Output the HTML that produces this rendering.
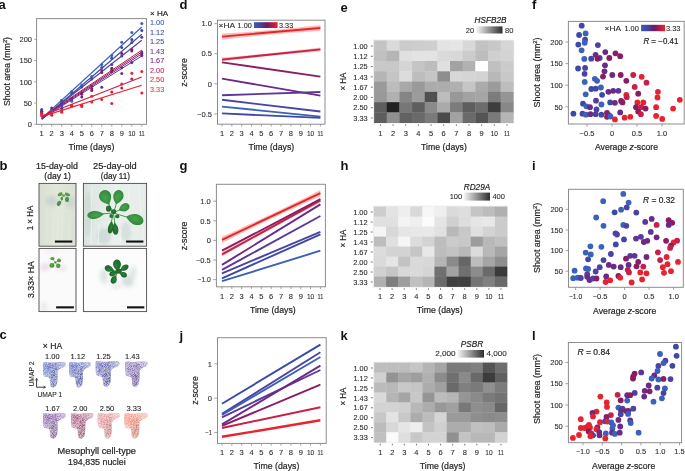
<!DOCTYPE html><html><head><meta charset="utf-8"><title>Figure</title><style>html,body{margin:0;padding:0;background:#fff;width:685px;height:471px;overflow:hidden}svg{display:block;will-change:transform;font-family:"Liberation Sans",sans-serif}</style></head><body><svg width="685" height="471" viewBox="0 0 685 471" font-family="Liberation Sans, sans-serif"><defs>
<linearGradient id="gHA" x1="0" x2="1" y1="0" y2="0">
<stop offset="0" stop-color="#3a5cb6"/><stop offset="0.3" stop-color="#4a3f9e"/>
<stop offset="0.55" stop-color="#6a1a66"/><stop offset="0.78" stop-color="#b81a44"/><stop offset="1" stop-color="#ea2030"/></linearGradient>
<linearGradient id="gGray" x1="0" x2="1" y1="0" y2="0">
<stop offset="0" stop-color="#f8f8f8"/><stop offset="1" stop-color="#2e2e2e"/></linearGradient>

<filter id="fSpeck" x="-10%" y="-10%" width="120%" height="120%">
 <feTurbulence type="fractalNoise" baseFrequency="1.5" numOctaves="2" seed="7" result="n"/>
 <feColorMatrix in="n" type="matrix" values="0 0 0 0 1  0 0 0 0 1  0 0 0 0 1  1.3 0 0 0 -0.42" result="w"/>
 <feComposite in="w" in2="SourceGraphic" operator="in" result="wm"/>
 <feMerge result="m"><feMergeNode in="SourceGraphic"/><feMergeNode in="wm"/></feMerge>
 <feGaussianBlur in="m" stdDeviation="0.45"/>
</filter>
<filter id="fBlurU" x="-50%" y="-50%" width="200%" height="200%"><feGaussianBlur stdDeviation="2.4"/></filter>
<linearGradient id="gUm" x1="0" y1="0" x2="1" y2="0">
 <stop offset="0" stop-color="#fff" stop-opacity="0"/><stop offset="0.6" stop-color="#fff" stop-opacity="0"/><stop offset="1" stop-color="#fff" stop-opacity="0.35"/></linearGradient>
<filter id="fBlur06"><feGaussianBlur stdDeviation="0.45"/></filter>
<filter id="fBlur1"><feGaussianBlur stdDeviation="1.2"/></filter>
<filter id="fBlur2"><feGaussianBlur stdDeviation="2.2"/></filter>
<linearGradient id="gP1" x1="0" y1="0" x2="1" y2="0">
 <stop offset="0" stop-color="#d9dfd0"/><stop offset="0.5" stop-color="#e2e7db"/><stop offset="1" stop-color="#dbe1d5"/></linearGradient>
<linearGradient id="gP2" x1="0" y1="0" x2="1" y2="0">
 <stop offset="0" stop-color="#dae4df"/><stop offset="0.5" stop-color="#eaf0ed"/><stop offset="1" stop-color="#e6ece9"/></linearGradient>
<radialGradient id="gLeaf" cx="0.5" cy="0.45" r="0.65">
 <stop offset="0" stop-color="#4aa24e"/><stop offset="0.75" stop-color="#338c3d"/><stop offset="1" stop-color="#257632"/></radialGradient>
<radialGradient id="gLeafL" cx="0.45" cy="0.4" r="0.7">
 <stop offset="0" stop-color="#64a848"/><stop offset="1" stop-color="#3d8a36"/></radialGradient>
<radialGradient id="gLeafD" cx="0.45" cy="0.4" r="0.7">
 <stop offset="0" stop-color="#2a823a"/><stop offset="1" stop-color="#185e27"/></radialGradient>
</defs><text x="-1.5" y="9.3" font-size="13" font-weight="bold" fill="#111">a</text>
<rect x="36.60" y="18.60" width="109.90" height="105.70" fill="none" stroke="#8c8c8c" stroke-width="1.0" />
<line x1="34.30" y1="124.30" x2="36.60" y2="124.30" stroke="#8c8c8c" stroke-width="0.8" />
<text x="32.00" y="127.00" font-size="7.5" fill="#2c2c2c" text-anchor="end" stroke="#2c2c2c" stroke-width="0.1">0</text>
<line x1="34.30" y1="103.05" x2="36.60" y2="103.05" stroke="#8c8c8c" stroke-width="0.8" />
<text x="32.00" y="105.75" font-size="7.5" fill="#2c2c2c" text-anchor="end" stroke="#2c2c2c" stroke-width="0.1">50</text>
<line x1="34.30" y1="81.80" x2="36.60" y2="81.80" stroke="#8c8c8c" stroke-width="0.8" />
<text x="32.00" y="84.50" font-size="7.5" fill="#2c2c2c" text-anchor="end" stroke="#2c2c2c" stroke-width="0.1">100</text>
<line x1="34.30" y1="60.55" x2="36.60" y2="60.55" stroke="#8c8c8c" stroke-width="0.8" />
<text x="32.00" y="63.25" font-size="7.5" fill="#2c2c2c" text-anchor="end" stroke="#2c2c2c" stroke-width="0.1">150</text>
<line x1="34.30" y1="39.30" x2="36.60" y2="39.30" stroke="#8c8c8c" stroke-width="0.8" />
<text x="32.00" y="42.00" font-size="7.5" fill="#2c2c2c" text-anchor="end" stroke="#2c2c2c" stroke-width="0.1">200</text>
<line x1="41.70" y1="124.30" x2="41.70" y2="126.60" stroke="#8c8c8c" stroke-width="0.8" />
<text x="41.70" y="136.10" font-size="7.5" fill="#2c2c2c" text-anchor="middle" stroke="#2c2c2c" stroke-width="0.1">1</text>
<line x1="51.71" y1="124.30" x2="51.71" y2="126.60" stroke="#8c8c8c" stroke-width="0.8" />
<text x="51.71" y="136.10" font-size="7.5" fill="#2c2c2c" text-anchor="middle" stroke="#2c2c2c" stroke-width="0.1">2</text>
<line x1="61.72" y1="124.30" x2="61.72" y2="126.60" stroke="#8c8c8c" stroke-width="0.8" />
<text x="61.72" y="136.10" font-size="7.5" fill="#2c2c2c" text-anchor="middle" stroke="#2c2c2c" stroke-width="0.1">3</text>
<line x1="71.73" y1="124.30" x2="71.73" y2="126.60" stroke="#8c8c8c" stroke-width="0.8" />
<text x="71.73" y="136.10" font-size="7.5" fill="#2c2c2c" text-anchor="middle" stroke="#2c2c2c" stroke-width="0.1">4</text>
<line x1="81.74" y1="124.30" x2="81.74" y2="126.60" stroke="#8c8c8c" stroke-width="0.8" />
<text x="81.74" y="136.10" font-size="7.5" fill="#2c2c2c" text-anchor="middle" stroke="#2c2c2c" stroke-width="0.1">5</text>
<line x1="91.75" y1="124.30" x2="91.75" y2="126.60" stroke="#8c8c8c" stroke-width="0.8" />
<text x="91.75" y="136.10" font-size="7.5" fill="#2c2c2c" text-anchor="middle" stroke="#2c2c2c" stroke-width="0.1">6</text>
<line x1="101.76" y1="124.30" x2="101.76" y2="126.60" stroke="#8c8c8c" stroke-width="0.8" />
<text x="101.76" y="136.10" font-size="7.5" fill="#2c2c2c" text-anchor="middle" stroke="#2c2c2c" stroke-width="0.1">7</text>
<line x1="111.77" y1="124.30" x2="111.77" y2="126.60" stroke="#8c8c8c" stroke-width="0.8" />
<text x="111.77" y="136.10" font-size="7.5" fill="#2c2c2c" text-anchor="middle" stroke="#2c2c2c" stroke-width="0.1">8</text>
<line x1="121.78" y1="124.30" x2="121.78" y2="126.60" stroke="#8c8c8c" stroke-width="0.8" />
<text x="121.78" y="136.10" font-size="7.5" fill="#2c2c2c" text-anchor="middle" stroke="#2c2c2c" stroke-width="0.1">9</text>
<line x1="131.79" y1="124.30" x2="131.79" y2="126.60" stroke="#8c8c8c" stroke-width="0.8" />
<text x="131.79" y="136.10" font-size="7.5" fill="#2c2c2c" text-anchor="middle" textLength="7.30" lengthAdjust="spacingAndGlyphs" stroke="#2c2c2c" stroke-width="0.1">10</text>
<line x1="141.80" y1="124.30" x2="141.80" y2="126.60" stroke="#8c8c8c" stroke-width="0.8" />
<text x="141.80" y="136.10" font-size="7.5" fill="#2c2c2c" text-anchor="middle" textLength="5.80" lengthAdjust="spacingAndGlyphs" stroke="#2c2c2c" stroke-width="0.1">11</text>
<text x="91.50" y="149.69" font-size="8.3" fill="#262626" text-anchor="middle" textLength="45.80" lengthAdjust="spacingAndGlyphs" stroke="#262626" stroke-width="0.2">Time (days)</text>
<text transform="translate(9.6 71.5) rotate(-90)" font-size="8.3" fill="#262626" text-anchor="middle" textLength="69" lengthAdjust="spacingAndGlyphs" stroke="#262626" stroke-width="0.2">Shoot area (mm<tspan font-size="5.4" dy="-2.9">2</tspan><tspan dy="2.9">)</tspan></text>
<text x="150.00" y="16.08" font-size="8.0" fill="#262626" textLength="18.10" lengthAdjust="spacingAndGlyphs" stroke="#262626" stroke-width="0.2">× HA</text>
<text x="150.00" y="25.34" font-size="7.6" fill="#3b5fb8" textLength="14.20" lengthAdjust="spacingAndGlyphs" stroke="#3b5fb8" stroke-width="0.1">1.00</text>
<text x="150.00" y="34.82" font-size="7.6" fill="#3c4aa6" textLength="14.20" lengthAdjust="spacingAndGlyphs" stroke="#3c4aa6" stroke-width="0.1">1.12</text>
<text x="150.00" y="44.30" font-size="7.6" fill="#4a48a6" textLength="14.20" lengthAdjust="spacingAndGlyphs" stroke="#4a48a6" stroke-width="0.1">1.25</text>
<text x="150.00" y="53.78" font-size="7.6" fill="#683c95" textLength="14.20" lengthAdjust="spacingAndGlyphs" stroke="#683c95" stroke-width="0.1">1.43</text>
<text x="150.00" y="63.26" font-size="7.6" fill="#762a7c" textLength="14.20" lengthAdjust="spacingAndGlyphs" stroke="#762a7c" stroke-width="0.1">1.67</text>
<text x="150.00" y="72.74" font-size="7.6" fill="#b02c6c" textLength="14.20" lengthAdjust="spacingAndGlyphs" stroke="#b02c6c" stroke-width="0.1">2.00</text>
<text x="150.00" y="82.22" font-size="7.6" fill="#e0304a" textLength="14.20" lengthAdjust="spacingAndGlyphs" stroke="#e0304a" stroke-width="0.1">2.50</text>
<text x="150.00" y="91.70" font-size="7.6" fill="#e8403c" textLength="14.20" lengthAdjust="spacingAndGlyphs" stroke="#e8403c" stroke-width="0.1">3.33</text>
<line x1="41.70" y1="118.50" x2="141.80" y2="27.00" stroke="#3a62ba" stroke-width="1.15" />
<line x1="41.70" y1="119.50" x2="141.80" y2="34.30" stroke="#3b4aa6" stroke-width="1.15" />
<line x1="41.70" y1="118.80" x2="141.80" y2="40.20" stroke="#4a43a3" stroke-width="1.15" />
<line x1="41.70" y1="117.20" x2="141.80" y2="50.20" stroke="#c81f48" stroke-width="1.0" />
<line x1="41.70" y1="117.60" x2="141.80" y2="52.00" stroke="#8a1c62" stroke-width="1.0" />
<line x1="41.70" y1="118.20" x2="141.80" y2="53.80" stroke="#6c2a86" stroke-width="1.0" />
<line x1="41.70" y1="118.60" x2="141.80" y2="56.00" stroke="#5b3797" stroke-width="1.0" />
<line x1="41.70" y1="116.00" x2="141.80" y2="77.00" stroke="#c81f48" stroke-width="1.15" />
<line x1="41.70" y1="116.60" x2="141.80" y2="85.20" stroke="#e8232f" stroke-width="1.15" />
<circle cx="41.70" cy="109.50" r="1.5" fill="#4a43a3"/>
<circle cx="41.70" cy="110.80" r="1.5" fill="#3a62ba"/>
<circle cx="41.70" cy="111.30" r="1.5" fill="#6c2a86"/>
<circle cx="41.70" cy="112.60" r="1.5" fill="#8a1c62"/>
<circle cx="41.70" cy="113.30" r="1.5" fill="#c81f48"/>
<circle cx="41.70" cy="114.60" r="1.5" fill="#e8232f"/>
<circle cx="41.70" cy="115.80" r="1.5" fill="#e8232f"/>
<circle cx="51.71" cy="107.90" r="1.5" fill="#8a1c62"/>
<circle cx="51.71" cy="109.80" r="1.5" fill="#6c2a86"/>
<circle cx="51.71" cy="110.60" r="1.5" fill="#3a62ba"/>
<circle cx="51.71" cy="113.80" r="1.5" fill="#e8232f"/>
<circle cx="51.71" cy="115.30" r="1.5" fill="#e8232f"/>
<circle cx="61.72" cy="100.30" r="1.5" fill="#3a62ba"/>
<circle cx="61.72" cy="101.80" r="1.5" fill="#3b4aa6"/>
<circle cx="61.72" cy="103.70" r="1.5" fill="#6c2a86"/>
<circle cx="61.72" cy="105.80" r="1.5" fill="#4a43a3"/>
<circle cx="61.72" cy="108.60" r="1.5" fill="#6c2a86"/>
<circle cx="61.72" cy="110.90" r="1.5" fill="#e8232f"/>
<circle cx="61.72" cy="112.20" r="1.5" fill="#e8232f"/>
<circle cx="71.73" cy="91.50" r="1.5" fill="#3a62ba"/>
<circle cx="71.73" cy="93.50" r="1.5" fill="#3b4aa6"/>
<circle cx="71.73" cy="98.40" r="1.5" fill="#8a1c62"/>
<circle cx="71.73" cy="100.00" r="1.5" fill="#6c2a86"/>
<circle cx="71.73" cy="101.30" r="1.5" fill="#3a62ba"/>
<circle cx="71.73" cy="105.30" r="1.5" fill="#e8232f"/>
<circle cx="71.73" cy="106.20" r="1.5" fill="#e8232f"/>
<circle cx="81.74" cy="85.10" r="1.5" fill="#3a62ba"/>
<circle cx="81.74" cy="87.00" r="1.5" fill="#3b4aa6"/>
<circle cx="81.74" cy="93.00" r="1.5" fill="#8a1c62"/>
<circle cx="81.74" cy="94.20" r="1.5" fill="#8a1c62"/>
<circle cx="81.74" cy="97.10" r="1.5" fill="#6c2a86"/>
<circle cx="81.74" cy="105.30" r="1.5" fill="#e8232f"/>
<circle cx="81.74" cy="106.40" r="1.5" fill="#e8232f"/>
<circle cx="91.75" cy="76.60" r="1.5" fill="#3a62ba"/>
<circle cx="91.75" cy="79.00" r="1.5" fill="#3b4aa6"/>
<circle cx="91.75" cy="86.20" r="1.5" fill="#6c2a86"/>
<circle cx="91.75" cy="88.80" r="1.5" fill="#8a1c62"/>
<circle cx="91.75" cy="90.40" r="1.5" fill="#8a1c62"/>
<circle cx="91.75" cy="96.20" r="1.5" fill="#e8232f"/>
<circle cx="91.75" cy="102.00" r="1.5" fill="#e8232f"/>
<circle cx="101.76" cy="64.60" r="1.5" fill="#3a62ba"/>
<circle cx="101.76" cy="67.50" r="1.5" fill="#3b4aa6"/>
<circle cx="101.76" cy="70.60" r="1.5" fill="#6c2a86"/>
<circle cx="101.76" cy="72.50" r="1.5" fill="#8a1c62"/>
<circle cx="101.76" cy="87.20" r="1.5" fill="#5b3797"/>
<circle cx="101.76" cy="99.40" r="1.5" fill="#e8232f"/>
<circle cx="111.77" cy="55.60" r="1.5" fill="#3a62ba"/>
<circle cx="111.77" cy="58.30" r="1.5" fill="#3b4aa6"/>
<circle cx="111.77" cy="64.50" r="1.5" fill="#4a43a3"/>
<circle cx="111.77" cy="68.20" r="1.5" fill="#6c2a86"/>
<circle cx="111.77" cy="69.70" r="1.5" fill="#8a1c62"/>
<circle cx="111.77" cy="71.60" r="1.5" fill="#8a1c62"/>
<circle cx="111.77" cy="103.50" r="1.5" fill="#e8232f"/>
<circle cx="111.77" cy="92.10" r="1.5" fill="#c81f48"/>
<circle cx="121.78" cy="42.20" r="1.5" fill="#3a62ba"/>
<circle cx="121.78" cy="47.40" r="1.5" fill="#3b4aa6"/>
<circle cx="121.78" cy="53.40" r="1.5" fill="#8a1c62"/>
<circle cx="121.78" cy="56.00" r="1.5" fill="#4a43a3"/>
<circle cx="121.78" cy="67.80" r="1.5" fill="#6c2a86"/>
<circle cx="121.78" cy="73.40" r="1.5" fill="#5b3797"/>
<circle cx="121.78" cy="84.00" r="1.5" fill="#e8232f"/>
<circle cx="121.78" cy="88.00" r="1.5" fill="#c81f48"/>
<circle cx="131.79" cy="32.40" r="1.5" fill="#3a62ba"/>
<circle cx="131.79" cy="39.60" r="1.5" fill="#3b4aa6"/>
<circle cx="131.79" cy="42.50" r="1.5" fill="#4a43a3"/>
<circle cx="131.79" cy="49.60" r="1.5" fill="#8a1c62"/>
<circle cx="131.79" cy="50.90" r="1.5" fill="#8a1c62"/>
<circle cx="131.79" cy="62.50" r="1.5" fill="#6c2a86"/>
<circle cx="131.79" cy="73.30" r="1.5" fill="#e8232f"/>
<circle cx="131.79" cy="79.00" r="1.5" fill="#c81f48"/>
<circle cx="141.80" cy="23.40" r="1.5" fill="#3a62ba"/>
<circle cx="141.80" cy="30.60" r="1.5" fill="#3b4aa6"/>
<circle cx="141.80" cy="37.30" r="1.5" fill="#4a43a3"/>
<circle cx="141.80" cy="51.90" r="1.5" fill="#5b3797"/>
<circle cx="141.80" cy="53.60" r="1.5" fill="#6c2a86"/>
<circle cx="141.80" cy="55.60" r="1.5" fill="#8a1c62"/>
<circle cx="141.80" cy="71.60" r="1.5" fill="#e8232f"/>
<circle cx="141.80" cy="93.00" r="1.5" fill="#e8232f"/>
<text x="-0.5" y="170.2" font-size="13" font-weight="bold" fill="#111">b</text>
<text x="57.00" y="168.95" font-size="8.2" fill="#262626" text-anchor="middle" textLength="41.80" lengthAdjust="spacingAndGlyphs" stroke="#262626" stroke-width="0.2">15-day-old</text>
<text x="57.60" y="179.15" font-size="8.2" fill="#262626" text-anchor="middle" textLength="26.60" lengthAdjust="spacingAndGlyphs" stroke="#262626" stroke-width="0.2">(day 1)</text>
<text x="114.90" y="168.95" font-size="8.2" fill="#262626" text-anchor="middle" textLength="43.60" lengthAdjust="spacingAndGlyphs" stroke="#262626" stroke-width="0.2">25-day-old</text>
<text x="115.40" y="179.15" font-size="8.2" fill="#262626" text-anchor="middle" textLength="29.40" lengthAdjust="spacingAndGlyphs" stroke="#262626" stroke-width="0.2">(day 11)</text>
<text transform="translate(33.4 218.0) rotate(-90)" font-size="8.3" fill="#262626" text-anchor="middle" textLength="24.5" lengthAdjust="spacingAndGlyphs" stroke="#262626" stroke-width="0.2">1 × HA</text>
<text transform="translate(33.6 279.6) rotate(-90)" font-size="8.3" fill="#262626" text-anchor="middle" textLength="37" lengthAdjust="spacingAndGlyphs" stroke="#262626" stroke-width="0.2">3.33× HA</text>
<clipPath id="cp1"><rect x="39" y="183.4" width="37" height="62.8"/></clipPath>
<g clip-path="url(#cp1)">
<rect x="39.00" y="183.40" width="37.00" height="62.80" fill="url(#gP1)" />
<g filter="url(#fBlur2)" opacity="0.55"><ellipse cx="52" cy="201" rx="6" ry="5" fill="#b8c4c8"/><ellipse cx="71" cy="202" rx="5" ry="6" fill="#c0cbcb"/></g>
<g filter="url(#fBlur06)" opacity="0.35" stroke="#f2f4ee" stroke-width="0.9" fill="none"><path d="M47 208 L46 246"/><path d="M54 212 L53 246"/><path d="M63 206 L61 246"/><path d="M70 214 L69 246"/><path d="M58 222 L57 246"/></g>
<g filter="url(#fBlur06)"><path d="M63.2 195.8 Q62.4 199 61.0 202.2" stroke="#b8cc70" stroke-width="0.9" fill="none"/><ellipse cx="60.2" cy="194.3" rx="2.6" ry="1.7" fill="url(#gLeafL)" transform="rotate(-25 60.2 194.3)"/><ellipse cx="67.4" cy="194.4" rx="2.7" ry="1.6" fill="url(#gLeafL)" transform="rotate(20 67.4 194.4)"/><ellipse cx="67.0" cy="199.4" rx="2.0" ry="2.6" fill="url(#gLeaf)"/><ellipse cx="61.8" cy="198.6" rx="1.2" ry="1.8" fill="url(#gLeaf)"/><ellipse cx="59.0" cy="203.3" rx="1.9" ry="2.7" fill="url(#gLeaf)" transform="rotate(30 59 203.3)"/><ellipse cx="63.7" cy="195.6" rx="1.6" ry="1.2" fill="#5aa040"/></g>
</g>
<rect x="39.00" y="183.40" width="37.00" height="62.80" fill="none" stroke="#4a4a4a" stroke-width="0.9" />
<rect x="54.90" y="240.50" width="17.40" height="2.10" fill="#111" />
<clipPath id="cp2"><rect x="83.4" y="183.4" width="63.2" height="62.8"/></clipPath>
<g clip-path="url(#cp2)">
<rect x="83.40" y="183.40" width="63.20" height="62.80" fill="url(#gP2)" />
<g filter="url(#fBlur1)" opacity="0.7"><ellipse cx="88" cy="214" rx="4" ry="22" fill="#cbd8d2"/><ellipse cx="104" cy="236" rx="7" ry="8" fill="#c9d6d2"/><ellipse cx="126" cy="232" rx="5" ry="10" fill="#d0dbd7"/></g>
<g filter="url(#fBlur06)" opacity="0.8" stroke="#f3f6f4" stroke-width="0.9" fill="none"><path d="M92 186 L91 246"/><path d="M99 224 L98 246"/><path d="M128 186 L129 210"/><path d="M139 186 L141 215"/><path d="M121 230 L120 246"/><path d="M143 224 L143 246"/></g>
<g stroke="#4c9a44" stroke-width="1.0" fill="none" filter="url(#fBlur06)"><path d="M113.5 213 L106 199"/><path d="M113.5 213 L117.5 200"/><path d="M113.5 213 L123 208"/><path d="M113.5 213 L130 218"/><path d="M113.5 213 L100 214"/><path d="M113.5 213 L110.5 225"/><path d="M113.5 213 L115 225"/></g>
<g filter="url(#fBlur06)"><path d="M6.20,0 C6.20,3.30 3.41,6.00 0,6.00 C-3.72,6.00 -7.10,2.40 -9.20,0 C-7.10,-2.40 -3.72,-6.00 0,-6.00 C3.41,-6.00 6.20,-3.30 6.20,0 Z" fill="url(#gLeaf)" transform="translate(105.10 196.20) rotate(-116.6)"/><path d="M6.00,0 C6.00,2.81 3.30,5.10 0,5.10 C-3.60,5.10 -6.75,2.04 -8.50,0 C-6.75,-2.04 -3.60,-5.10 0,-5.10 C3.30,-5.10 6.00,-2.81 6.00,0 Z" fill="url(#gLeaf)" transform="translate(118.40 196.00) rotate(-73.9)"/><path d="M4.80,0 C4.80,2.20 2.64,4.00 0,4.00 C-2.88,4.00 -5.40,1.60 -6.80,0 C-5.40,-1.60 -2.88,-4.00 0,-4.00 C2.64,-4.00 4.80,-2.20 4.80,0 Z" fill="url(#gLeaf)" transform="translate(124.90 207.20) rotate(-27.0)"/><path d="M7.40,0 C7.40,2.92 4.07,5.30 0,5.30 C-4.44,5.30 -8.30,2.12 -10.40,0 C-8.30,-2.12 -4.44,-5.30 0,-5.30 C4.07,-5.30 7.40,-2.92 7.40,0 Z" fill="url(#gLeaf)" transform="translate(136.20 219.60) rotate(16.2)"/><path d="M6.80,0 C6.80,2.15 3.74,3.90 0,3.90 C-4.08,3.90 -7.70,1.56 -9.80,0 C-7.70,-1.56 -4.08,-3.90 0,-3.90 C3.74,-3.90 6.80,-2.15 6.80,0 Z" fill="url(#gLeaf)" transform="translate(94.20 215.00) rotate(174.1)"/><path d="M5.20,0 C5.20,1.49 2.86,2.70 0,2.70 C-3.12,2.70 -5.80,1.08 -7.20,0 C-5.80,-1.08 -3.12,-2.70 0,-2.70 C2.86,-2.70 5.20,-1.49 5.20,0 Z" fill="url(#gLeafD)" transform="translate(110.60 228.40) rotate(100.7)"/><path d="M5.20,0 C5.20,1.65 2.86,3.00 0,3.00 C-3.12,3.00 -5.80,1.20 -7.20,0 C-5.80,-1.20 -3.12,-3.00 0,-3.00 C2.86,-3.00 5.20,-1.65 5.20,0 Z" fill="url(#gLeafD)" transform="translate(115.40 229.60) rotate(83.5)"/><ellipse cx="108.6" cy="208.6" rx="2.6" ry="3.2" fill="url(#gLeafD)"/><ellipse cx="113.6" cy="211.6" rx="2.6" ry="2.4" fill="url(#gLeafD)"/><ellipse cx="117.2" cy="216.4" rx="2.2" ry="1.8" fill="url(#gLeafD)"/><ellipse cx="111.2" cy="216.0" rx="1.8" ry="2.0" fill="url(#gLeafD)"/></g>
</g>
<rect x="83.40" y="183.40" width="63.20" height="62.80" fill="none" stroke="#4a4a4a" stroke-width="0.9" />
<rect x="126.10" y="240.50" width="17.30" height="2.10" fill="#111" />
<clipPath id="cp3"><rect x="39" y="248.4" width="37" height="63.2"/></clipPath>
<g clip-path="url(#cp3)">
<rect x="39.00" y="248.40" width="37.00" height="63.20" fill="#fbfafb" />
<g filter="url(#fBlur2)" opacity="0.6"><ellipse cx="45" cy="267" rx="5" ry="3.5" fill="#dcc8d8"/><ellipse cx="62" cy="268" rx="5" ry="3" fill="#e4d4e0"/><ellipse cx="44" cy="307" rx="3" ry="5" fill="#e0d4e2"/><ellipse cx="50" cy="251" rx="8" ry="2" fill="#efe4ec"/></g>
<g filter="url(#fBlur06)"><path d="M55.1 262.2 L52.4 258.6 M55.1 262.2 L58.9 260.6 M55.1 262.2 L51.9 265.4 M55.1 262.2 L58.1 265.8" stroke="#7aa850" stroke-width="0.6"/><ellipse cx="52.4" cy="258.6" rx="2.1" ry="1.7" fill="url(#gLeafL)"/><ellipse cx="59.0" cy="260.4" rx="2.0" ry="1.9" fill="url(#gLeafL)"/><ellipse cx="51.9" cy="265.4" rx="2.5" ry="2.4" fill="url(#gLeafL)"/><ellipse cx="58.2" cy="265.8" rx="2.2" ry="2.3" fill="url(#gLeafL)"/><ellipse cx="55.4" cy="262.4" rx="1.2" ry="1.0" fill="#4a8a3a"/></g>
</g>
<rect x="39.00" y="248.40" width="37.00" height="63.20" fill="none" stroke="#4a4a4a" stroke-width="0.9" />
<rect x="56.10" y="306.30" width="17.80" height="2.10" fill="#111" />
<clipPath id="cp4"><rect x="83.4" y="248.4" width="63.2" height="63.2"/></clipPath>
<g clip-path="url(#cp4)">
<rect x="83.40" y="248.40" width="63.20" height="63.20" fill="#fcfcfc" />
<g filter="url(#fBlur2)" opacity="0.55"><ellipse cx="104" cy="276" rx="4" ry="8" fill="#c4d0cc"/><ellipse cx="128" cy="281" rx="6" ry="6" fill="#b4c4c2"/><ellipse cx="133" cy="272" rx="3" ry="6" fill="#c4d0ce"/><ellipse cx="116" cy="286" rx="6" ry="3" fill="#d4dcd8"/></g>
<g filter="url(#fBlur06)"><g stroke="#4e8e40" stroke-width="1.1" fill="none"><path d="M117.6 272 L117 265 M117.6 272 L109 269 M117.6 272 L124.6 268 M117.6 272 L112.6 274 M117.6 272 L123.6 275 M117.6 272 L114 280"/></g><path d="M4.80,0 C4.80,2.20 2.64,4.00 0,4.00 C-2.88,4.00 -5.25,1.60 -6.30,0 C-5.25,-1.60 -2.88,-4.00 0,-4.00 C2.64,-4.00 4.80,-2.20 4.80,0 Z" fill="url(#gLeafD)" transform="translate(117.00 264.30) rotate(-94.5)"/><path d="M4.10,0 C4.10,1.71 2.25,3.10 0,3.10 C-2.46,3.10 -4.55,1.24 -5.60,0 C-4.55,-1.24 -2.46,-3.10 0,-3.10 C2.25,-3.10 4.10,-1.71 4.10,0 Z" fill="url(#gLeafD)" transform="translate(108.70 268.60) rotate(-159.1)"/><path d="M4.00,0 C4.00,1.49 2.20,2.70 0,2.70 C-2.40,2.70 -4.45,1.08 -5.50,0 C-4.45,-1.08 -2.40,-2.70 0,-2.70 C2.20,-2.70 4.00,-1.49 4.00,0 Z" fill="url(#gLeafD)" transform="translate(124.90 267.60) rotate(-31.1)"/><path d="M3.40,0 C3.40,1.43 1.87,2.60 0,2.60 C-2.04,2.60 -3.70,1.04 -4.40,0 C-3.70,-1.04 -2.04,-2.60 0,-2.60 C1.87,-2.60 3.40,-1.43 3.40,0 Z" fill="url(#gLeafD)" transform="translate(112.60 273.70) rotate(161.2)"/><ellipse cx="118.6" cy="271.0" rx="3.2" ry="2.6" fill="#236a2c"/><path d="M3.30,0 C3.30,1.49 1.81,2.70 0,2.70 C-1.98,2.70 -3.60,1.08 -4.30,0 C-3.60,-1.08 -1.98,-2.70 0,-2.70 C1.81,-2.70 3.30,-1.49 3.30,0 Z" fill="url(#gLeafD)" transform="translate(123.80 274.80) rotate(24.3)"/><path d="M3.60,0 C3.60,1.65 1.98,3.00 0,3.00 C-2.16,3.00 -4.05,1.20 -5.10,0 C-4.05,-1.20 -2.16,-3.00 0,-3.00 C1.98,-3.00 3.60,-1.65 3.60,0 Z" fill="url(#gLeafD)" transform="translate(113.70 280.20) rotate(115.4)"/></g>
</g>
<rect x="83.40" y="248.40" width="63.20" height="63.20" fill="none" stroke="#4a4a4a" stroke-width="0.9" />
<rect x="127.00" y="306.30" width="17.30" height="2.10" fill="#111" />
<text x="-0.5" y="339.4" font-size="13" font-weight="bold" fill="#111">c</text>
<text x="42.80" y="349.19" font-size="8.3" fill="#262626" textLength="19.40" lengthAdjust="spacingAndGlyphs" stroke="#262626" stroke-width="0.2">× HA</text>
<text x="37.40" y="396.74" font-size="7.6" fill="#262626" textLength="24.80" lengthAdjust="spacingAndGlyphs" stroke="#262626" stroke-width="0.1">UMAP 1</text>
<text transform="translate(33.8 374) rotate(-90)" font-size="7.6" fill="#262626" text-anchor="middle" textLength="25" lengthAdjust="spacingAndGlyphs" stroke="#262626" stroke-width="0.1">UMAP 2</text>
<path d="M36.6 378.6 L36.6 387.2 L45.2 387.2" stroke="#222" stroke-width="0.9" fill="none"/>
<path d="M35.4 380.4 L36.6 378.4 L37.8 380.4 M43.6 386 L45.6 387.2 L43.6 388.4" stroke="#222" stroke-width="0.7" fill="none"/>
<text x="96.80" y="454.32" font-size="8.4" fill="#262626" text-anchor="middle" textLength="78.40" lengthAdjust="spacingAndGlyphs" stroke="#262626" stroke-width="0.2">Mesophyll cell-type</text>
<text x="96.80" y="464.82" font-size="8.4" fill="#262626" text-anchor="middle" textLength="57.60" lengthAdjust="spacingAndGlyphs" stroke="#262626" stroke-width="0.2">194,835 nuclei</text>
<text x="52.30" y="358.77" font-size="7.7" fill="#262626" text-anchor="middle" textLength="14.60" lengthAdjust="spacingAndGlyphs" stroke="#262626" stroke-width="0.1">1.00</text>
<text x="77.80" y="358.77" font-size="7.7" fill="#262626" text-anchor="middle" textLength="14.60" lengthAdjust="spacingAndGlyphs" stroke="#262626" stroke-width="0.1">1.12</text>
<text x="103.50" y="358.77" font-size="7.7" fill="#262626" text-anchor="middle" textLength="14.60" lengthAdjust="spacingAndGlyphs" stroke="#262626" stroke-width="0.1">1.25</text>
<text x="132.40" y="358.77" font-size="7.7" fill="#262626" text-anchor="middle" textLength="14.60" lengthAdjust="spacingAndGlyphs" stroke="#262626" stroke-width="0.1">1.43</text>
<text x="52.60" y="410.77" font-size="7.7" fill="#262626" text-anchor="middle" textLength="14.60" lengthAdjust="spacingAndGlyphs" stroke="#262626" stroke-width="0.1">1.67</text>
<text x="80.20" y="410.77" font-size="7.7" fill="#262626" text-anchor="middle" textLength="14.60" lengthAdjust="spacingAndGlyphs" stroke="#262626" stroke-width="0.1">2.00</text>
<text x="107.00" y="410.77" font-size="7.7" fill="#262626" text-anchor="middle" textLength="14.60" lengthAdjust="spacingAndGlyphs" stroke="#262626" stroke-width="0.1">2.50</text>
<text x="133.80" y="410.77" font-size="7.7" fill="#262626" text-anchor="middle" textLength="14.60" lengthAdjust="spacingAndGlyphs" stroke="#262626" stroke-width="0.1">3.33</text>
<clipPath id="cpUm"><path d="M0.40,0.40 C1.23,-0.43 3.52,0.43 5.00,0.50 C6.48,0.57 7.88,0.82 9.30,0.80 C10.72,0.78 12.15,0.52 13.50,0.40 C14.85,0.28 16.23,0.13 17.40,0.10 C18.57,0.07 19.67,0.07 20.50,0.20 C21.33,0.33 21.98,0.47 22.40,0.90 C22.82,1.33 23.15,2.13 23.00,2.80 C22.85,3.47 22.25,4.33 21.50,4.90 C20.75,5.47 19.38,5.75 18.50,6.20 C17.62,6.65 16.83,6.97 16.20,7.60 C15.57,8.23 14.98,8.53 14.70,10.00 C14.42,11.47 14.65,14.32 14.50,16.40 C14.35,18.48 14.42,20.97 13.80,22.50 C13.18,24.03 11.80,25.25 10.80,25.60 C9.80,25.95 8.43,25.45 7.80,24.60 C7.17,23.75 7.20,21.83 7.00,20.50 C6.80,19.17 7.07,17.47 6.60,16.60 C6.13,15.73 5.13,15.65 4.20,15.30 C3.27,14.95 1.67,15.22 1.00,14.50 C0.33,13.78 0.37,12.50 0.20,11.00 C0.03,9.50 -0.03,7.27 0.00,5.50 C0.03,3.73 -0.43,1.23 0.40,0.40 Z"/></clipPath>
<g transform="translate(43.0 361.8) scale(1.0 1)" filter="url(#fSpeck)"><g clip-path="url(#cpUm)"><rect x="-2" y="-2" width="28" height="30" fill="#a5b0dd"/><ellipse cx="11.2" cy="15" rx="4.6" ry="12" fill="#5666aa" filter="url(#fBlurU)"/><ellipse cx="5" cy="6" rx="5" ry="6" fill="#6477c6" filter="url(#fBlurU)"/><ellipse cx="13" cy="4" rx="4" ry="3.5" fill="#6477c6" opacity="0.7" filter="url(#fBlurU)"/></g></g>
<g transform="translate(69.0 361.8) scale(0.96 1)" filter="url(#fSpeck)"><g clip-path="url(#cpUm)"><rect x="-2" y="-2" width="28" height="30" fill="#a3addc"/><ellipse cx="11.2" cy="15" rx="4.6" ry="12" fill="#5462a8" filter="url(#fBlurU)"/><ellipse cx="5" cy="6" rx="5" ry="6" fill="#6272c4" filter="url(#fBlurU)"/><ellipse cx="13" cy="4" rx="4" ry="3.5" fill="#6272c4" opacity="0.7" filter="url(#fBlurU)"/></g></g>
<g transform="translate(95.6 361.0) scale(1.05 1)" filter="url(#fSpeck)"><g clip-path="url(#cpUm)"><rect x="-2" y="-2" width="28" height="30" fill="#a6a7d8"/><ellipse cx="11.2" cy="15" rx="4.6" ry="12" fill="#5759a1" filter="url(#fBlurU)"/><ellipse cx="5" cy="6" rx="5" ry="6" fill="#6668bc" filter="url(#fBlurU)"/><ellipse cx="13" cy="4" rx="4" ry="3.5" fill="#6668bc" opacity="0.7" filter="url(#fBlurU)"/></g></g>
<g transform="translate(125.2 361.2) scale(0.98 1)" filter="url(#fSpeck)"><g clip-path="url(#cpUm)"><rect x="-2" y="-2" width="28" height="30" fill="#b5a5d4"/><ellipse cx="11.2" cy="15" rx="4.6" ry="12" fill="#6e569c" filter="url(#fBlurU)"/><ellipse cx="5" cy="6" rx="5" ry="6" fill="#8064b6" filter="url(#fBlurU)"/><ellipse cx="13" cy="4" rx="4" ry="3.5" fill="#8064b6" opacity="0.7" filter="url(#fBlurU)"/></g></g>
<g transform="translate(43.0 412.9) scale(1.0 1)" filter="url(#fSpeck)"><g clip-path="url(#cpUm)"><rect x="-2" y="-2" width="28" height="30" fill="#bea3d0"/><ellipse cx="11.2" cy="15" rx="4.6" ry="12" fill="#7b5495" filter="url(#fBlurU)"/><ellipse cx="5" cy="6" rx="5" ry="6" fill="#9062ae" filter="url(#fBlurU)"/><ellipse cx="13" cy="4" rx="4" ry="3.5" fill="#9062ae" opacity="0.7" filter="url(#fBlurU)"/></g></g>
<g transform="translate(71.0 412.9) scale(0.98 1)" filter="url(#fSpeck)"><g clip-path="url(#cpUm)"><rect x="-2" y="-2" width="28" height="30" fill="#d2a0b9"/><ellipse cx="11.2" cy="15" rx="4.6" ry="12" fill="#994f74" filter="url(#fBlurU)"/><ellipse cx="5" cy="6" rx="5" ry="6" fill="#b25c88" filter="url(#fBlurU)"/><ellipse cx="13" cy="4" rx="4" ry="3.5" fill="#b25c88" opacity="0.7" filter="url(#fBlurU)"/></g></g>
<g transform="translate(97.6 412.9) scale(0.98 1)" filter="url(#fSpeck)"><g clip-path="url(#cpUm)"><rect x="-2" y="-2" width="28" height="30" fill="#f2c0c3"/><ellipse cx="11.2" cy="15" rx="4.6" ry="12" fill="#c87f82" filter="url(#fBlurU)"/><ellipse cx="5" cy="6" rx="5" ry="6" fill="#e99498" filter="url(#fBlurU)"/><ellipse cx="13" cy="4" rx="4" ry="3.5" fill="#e99498" opacity="0.7" filter="url(#fBlurU)"/></g></g>
<g transform="translate(124.2 412.9) scale(1.04 1)" filter="url(#fSpeck)"><g clip-path="url(#cpUm)"><rect x="-2" y="-2" width="28" height="30" fill="#f8beb4"/><ellipse cx="11.2" cy="15" rx="4.6" ry="12" fill="#d17b6c" filter="url(#fBlurU)"/><ellipse cx="5" cy="6" rx="5" ry="6" fill="#f4907e" filter="url(#fBlurU)"/><ellipse cx="13" cy="4" rx="4" ry="3.5" fill="#f4907e" opacity="0.7" filter="url(#fBlurU)"/></g></g>
<text x="179.6" y="9.2" font-size="13" font-weight="bold" fill="#111">d</text>
<rect x="217.50" y="20.20" width="107.50" height="104.00" fill="none" stroke="#8c8c8c" stroke-width="1.0" />
<line x1="214.30" y1="23.70" x2="217.50" y2="23.70" stroke="#8c8c8c" stroke-width="0.8" />
<text x="211.90" y="26.40" font-size="7.5" fill="#2c2c2c" text-anchor="end" stroke="#2c2c2c" stroke-width="0.1">1.0</text>
<line x1="214.30" y1="53.70" x2="217.50" y2="53.70" stroke="#8c8c8c" stroke-width="0.8" />
<text x="211.90" y="56.40" font-size="7.5" fill="#2c2c2c" text-anchor="end" stroke="#2c2c2c" stroke-width="0.1">0.5</text>
<line x1="214.30" y1="83.80" x2="217.50" y2="83.80" stroke="#8c8c8c" stroke-width="0.8" />
<text x="211.90" y="86.50" font-size="7.5" fill="#2c2c2c" text-anchor="end" stroke="#2c2c2c" stroke-width="0.1">0</text>
<line x1="214.30" y1="113.90" x2="217.50" y2="113.90" stroke="#8c8c8c" stroke-width="0.8" />
<text x="211.90" y="116.60" font-size="7.5" fill="#2c2c2c" text-anchor="end" stroke="#2c2c2c" stroke-width="0.1">−0.5</text>
<line x1="222.00" y1="124.20" x2="222.00" y2="126.50" stroke="#8c8c8c" stroke-width="0.8" />
<text x="222.00" y="136.10" font-size="7.5" fill="#2c2c2c" text-anchor="middle" stroke="#2c2c2c" stroke-width="0.1">1</text>
<line x1="231.84" y1="124.20" x2="231.84" y2="126.50" stroke="#8c8c8c" stroke-width="0.8" />
<text x="231.84" y="136.10" font-size="7.5" fill="#2c2c2c" text-anchor="middle" stroke="#2c2c2c" stroke-width="0.1">2</text>
<line x1="241.68" y1="124.20" x2="241.68" y2="126.50" stroke="#8c8c8c" stroke-width="0.8" />
<text x="241.68" y="136.10" font-size="7.5" fill="#2c2c2c" text-anchor="middle" stroke="#2c2c2c" stroke-width="0.1">3</text>
<line x1="251.52" y1="124.20" x2="251.52" y2="126.50" stroke="#8c8c8c" stroke-width="0.8" />
<text x="251.52" y="136.10" font-size="7.5" fill="#2c2c2c" text-anchor="middle" stroke="#2c2c2c" stroke-width="0.1">4</text>
<line x1="261.36" y1="124.20" x2="261.36" y2="126.50" stroke="#8c8c8c" stroke-width="0.8" />
<text x="261.36" y="136.10" font-size="7.5" fill="#2c2c2c" text-anchor="middle" stroke="#2c2c2c" stroke-width="0.1">5</text>
<line x1="271.20" y1="124.20" x2="271.20" y2="126.50" stroke="#8c8c8c" stroke-width="0.8" />
<text x="271.20" y="136.10" font-size="7.5" fill="#2c2c2c" text-anchor="middle" stroke="#2c2c2c" stroke-width="0.1">6</text>
<line x1="281.04" y1="124.20" x2="281.04" y2="126.50" stroke="#8c8c8c" stroke-width="0.8" />
<text x="281.04" y="136.10" font-size="7.5" fill="#2c2c2c" text-anchor="middle" stroke="#2c2c2c" stroke-width="0.1">7</text>
<line x1="290.88" y1="124.20" x2="290.88" y2="126.50" stroke="#8c8c8c" stroke-width="0.8" />
<text x="290.88" y="136.10" font-size="7.5" fill="#2c2c2c" text-anchor="middle" stroke="#2c2c2c" stroke-width="0.1">8</text>
<line x1="300.72" y1="124.20" x2="300.72" y2="126.50" stroke="#8c8c8c" stroke-width="0.8" />
<text x="300.72" y="136.10" font-size="7.5" fill="#2c2c2c" text-anchor="middle" stroke="#2c2c2c" stroke-width="0.1">9</text>
<line x1="310.56" y1="124.20" x2="310.56" y2="126.50" stroke="#8c8c8c" stroke-width="0.8" />
<text x="310.56" y="136.10" font-size="7.5" fill="#2c2c2c" text-anchor="middle" textLength="7.30" lengthAdjust="spacingAndGlyphs" stroke="#2c2c2c" stroke-width="0.1">10</text>
<line x1="320.40" y1="124.20" x2="320.40" y2="126.50" stroke="#8c8c8c" stroke-width="0.8" />
<text x="320.40" y="136.10" font-size="7.5" fill="#2c2c2c" text-anchor="middle" textLength="5.80" lengthAdjust="spacingAndGlyphs" stroke="#2c2c2c" stroke-width="0.1">11</text>
<text x="271.30" y="149.69" font-size="8.3" fill="#262626" text-anchor="middle" textLength="45.80" lengthAdjust="spacingAndGlyphs" stroke="#262626" stroke-width="0.2">Time (days)</text>
<text transform="translate(187.0 72.5) rotate(-90)" font-size="8.3" fill="#262626" text-anchor="middle" textLength="28.6" lengthAdjust="spacingAndGlyphs" stroke="#262626" stroke-width="0.2">z-score</text>
<polygon points="222.00,33.50 228.15,33.17 234.30,32.80 240.45,32.42 246.60,32.00 252.75,31.56 258.90,31.09 265.05,30.59 271.20,30.07 277.35,29.52 283.50,28.94 289.65,28.33 295.80,27.70 301.95,27.04 308.10,26.35 314.25,25.64 320.40,24.90 320.40,31.10 314.25,31.43 308.10,31.80 301.95,32.18 295.80,32.60 289.65,33.04 283.50,33.51 277.35,34.01 271.20,34.53 265.05,35.08 258.90,35.66 252.75,36.27 246.60,36.90 240.45,37.56 234.30,38.25 228.15,38.96 222.00,39.70" fill="#f49a8c" fill-opacity="0.62"/>
<line x1="222.00" y1="36.60" x2="320.40" y2="28.00" stroke="#e8232f" stroke-width="1.9" />
<polygon points="222.00,57.60 228.15,57.09 234.30,56.57 240.45,56.03 246.60,55.47 252.75,54.89 258.90,54.30 265.05,53.69 271.20,53.06 277.35,52.41 283.50,51.75 289.65,51.07 295.80,50.37 301.95,49.65 308.10,48.92 314.25,48.17 320.40,47.40 320.40,51.40 314.25,51.91 308.10,52.43 301.95,52.97 295.80,53.53 289.65,54.11 283.50,54.70 277.35,55.31 271.20,55.94 265.05,56.59 258.90,57.25 252.75,57.93 246.60,58.63 240.45,59.35 234.30,60.08 228.15,60.83 222.00,61.60" fill="#f49a8c" fill-opacity="0.62"/>
<line x1="222.00" y1="59.60" x2="320.40" y2="49.40" stroke="#c81f48" stroke-width="1.9" />
<line x1="222.00" y1="62.40" x2="320.40" y2="76.60" stroke="#8a1c62" stroke-width="1.9" />
<line x1="222.00" y1="78.60" x2="320.40" y2="95.60" stroke="#6c2a86" stroke-width="1.9" />
<line x1="222.00" y1="95.20" x2="320.40" y2="92.00" stroke="#5b3797" stroke-width="1.9" />
<line x1="222.00" y1="99.80" x2="320.40" y2="111.50" stroke="#4a43a3" stroke-width="1.9" />
<line x1="222.00" y1="106.60" x2="320.40" y2="116.60" stroke="#3a62ba" stroke-width="1.9" />
<line x1="222.00" y1="113.40" x2="320.40" y2="117.90" stroke="#3b4aa6" stroke-width="1.9" />
<text x="218.60" y="27.94" font-size="7.6" fill="#262626" textLength="16.60" lengthAdjust="spacingAndGlyphs" stroke="#262626" stroke-width="0.1">×HA</text>
<text x="237.60" y="27.86" font-size="7.4" fill="#262626" textLength="14.20" lengthAdjust="spacingAndGlyphs" stroke="#262626" stroke-width="0.1">1.00</text>
<rect x="254" y="22.2" width="23.6" height="5.8" fill="url(#gHA)"/>
<text x="279.00" y="27.86" font-size="7.4" fill="#262626" textLength="14.20" lengthAdjust="spacingAndGlyphs" stroke="#262626" stroke-width="0.1">3.33</text>
<text x="179.6" y="170.4" font-size="13" font-weight="bold" fill="#111">g</text>
<rect x="216.40" y="184.30" width="109.00" height="102.50" fill="none" stroke="#8c8c8c" stroke-width="1.0" />
<line x1="213.20" y1="201.20" x2="216.40" y2="201.20" stroke="#8c8c8c" stroke-width="0.8" />
<text x="210.80" y="203.90" font-size="7.5" fill="#2c2c2c" text-anchor="end" stroke="#2c2c2c" stroke-width="0.1">1.0</text>
<line x1="213.20" y1="220.80" x2="216.40" y2="220.80" stroke="#8c8c8c" stroke-width="0.8" />
<text x="210.80" y="223.50" font-size="7.5" fill="#2c2c2c" text-anchor="end" stroke="#2c2c2c" stroke-width="0.1">0.5</text>
<line x1="213.20" y1="240.40" x2="216.40" y2="240.40" stroke="#8c8c8c" stroke-width="0.8" />
<text x="210.80" y="243.10" font-size="7.5" fill="#2c2c2c" text-anchor="end" stroke="#2c2c2c" stroke-width="0.1">0</text>
<line x1="213.20" y1="260.00" x2="216.40" y2="260.00" stroke="#8c8c8c" stroke-width="0.8" />
<text x="210.80" y="262.70" font-size="7.5" fill="#2c2c2c" text-anchor="end" stroke="#2c2c2c" stroke-width="0.1">−0.5</text>
<line x1="213.20" y1="279.60" x2="216.40" y2="279.60" stroke="#8c8c8c" stroke-width="0.8" />
<text x="210.80" y="282.30" font-size="7.5" fill="#2c2c2c" text-anchor="end" textLength="13.30" lengthAdjust="spacingAndGlyphs" stroke="#2c2c2c" stroke-width="0.1">−1.0</text>
<line x1="222.00" y1="286.80" x2="222.00" y2="289.10" stroke="#8c8c8c" stroke-width="0.8" />
<text x="222.00" y="298.60" font-size="7.5" fill="#2c2c2c" text-anchor="middle" stroke="#2c2c2c" stroke-width="0.1">1</text>
<line x1="231.84" y1="286.80" x2="231.84" y2="289.10" stroke="#8c8c8c" stroke-width="0.8" />
<text x="231.84" y="298.60" font-size="7.5" fill="#2c2c2c" text-anchor="middle" stroke="#2c2c2c" stroke-width="0.1">2</text>
<line x1="241.68" y1="286.80" x2="241.68" y2="289.10" stroke="#8c8c8c" stroke-width="0.8" />
<text x="241.68" y="298.60" font-size="7.5" fill="#2c2c2c" text-anchor="middle" stroke="#2c2c2c" stroke-width="0.1">3</text>
<line x1="251.52" y1="286.80" x2="251.52" y2="289.10" stroke="#8c8c8c" stroke-width="0.8" />
<text x="251.52" y="298.60" font-size="7.5" fill="#2c2c2c" text-anchor="middle" stroke="#2c2c2c" stroke-width="0.1">4</text>
<line x1="261.36" y1="286.80" x2="261.36" y2="289.10" stroke="#8c8c8c" stroke-width="0.8" />
<text x="261.36" y="298.60" font-size="7.5" fill="#2c2c2c" text-anchor="middle" stroke="#2c2c2c" stroke-width="0.1">5</text>
<line x1="271.20" y1="286.80" x2="271.20" y2="289.10" stroke="#8c8c8c" stroke-width="0.8" />
<text x="271.20" y="298.60" font-size="7.5" fill="#2c2c2c" text-anchor="middle" stroke="#2c2c2c" stroke-width="0.1">6</text>
<line x1="281.04" y1="286.80" x2="281.04" y2="289.10" stroke="#8c8c8c" stroke-width="0.8" />
<text x="281.04" y="298.60" font-size="7.5" fill="#2c2c2c" text-anchor="middle" stroke="#2c2c2c" stroke-width="0.1">7</text>
<line x1="290.88" y1="286.80" x2="290.88" y2="289.10" stroke="#8c8c8c" stroke-width="0.8" />
<text x="290.88" y="298.60" font-size="7.5" fill="#2c2c2c" text-anchor="middle" stroke="#2c2c2c" stroke-width="0.1">8</text>
<line x1="300.72" y1="286.80" x2="300.72" y2="289.10" stroke="#8c8c8c" stroke-width="0.8" />
<text x="300.72" y="298.60" font-size="7.5" fill="#2c2c2c" text-anchor="middle" stroke="#2c2c2c" stroke-width="0.1">9</text>
<line x1="310.56" y1="286.80" x2="310.56" y2="289.10" stroke="#8c8c8c" stroke-width="0.8" />
<text x="310.56" y="298.60" font-size="7.5" fill="#2c2c2c" text-anchor="middle" textLength="7.30" lengthAdjust="spacingAndGlyphs" stroke="#2c2c2c" stroke-width="0.1">10</text>
<line x1="320.40" y1="286.80" x2="320.40" y2="289.10" stroke="#8c8c8c" stroke-width="0.8" />
<text x="320.40" y="298.60" font-size="7.5" fill="#2c2c2c" text-anchor="middle" textLength="5.80" lengthAdjust="spacingAndGlyphs" stroke="#2c2c2c" stroke-width="0.1">11</text>
<text x="272.80" y="313.29" font-size="8.3" fill="#262626" text-anchor="middle" textLength="45.80" lengthAdjust="spacingAndGlyphs" stroke="#262626" stroke-width="0.2">Time (days)</text>
<text transform="translate(187.0 235.9) rotate(-90)" font-size="8.3" fill="#262626" text-anchor="middle" textLength="28.6" lengthAdjust="spacingAndGlyphs" stroke="#262626" stroke-width="0.2">z-score</text>
<polygon points="222.00,236.60 228.15,233.90 234.30,231.17 240.45,228.41 246.60,225.62 252.75,222.81 258.90,219.96 265.05,217.09 271.20,214.20 277.35,211.27 283.50,208.31 289.65,205.33 295.80,202.32 301.95,199.28 308.10,196.22 314.25,193.12 320.40,190.00 320.40,196.40 314.25,199.10 308.10,201.83 301.95,204.59 295.80,207.38 289.65,210.19 283.50,213.04 277.35,215.91 271.20,218.80 265.05,221.73 258.90,224.69 252.75,227.67 246.60,230.68 240.45,233.72 234.30,236.78 228.15,239.88 222.00,243.00" fill="#f49a8c" fill-opacity="0.62"/>
<line x1="222.00" y1="239.80" x2="320.40" y2="193.20" stroke="#e8232f" stroke-width="1.9" />
<polygon points="222.00,252.30 228.15,249.06 234.30,245.81 240.45,242.53 246.60,239.24 252.75,235.93 258.90,232.60 265.05,229.25 271.20,225.89 277.35,222.50 283.50,219.10 289.65,215.68 295.80,212.24 301.95,208.78 308.10,205.31 314.25,201.81 320.40,198.30 320.40,202.50 314.25,205.74 308.10,208.99 301.95,212.27 295.80,215.56 289.65,218.87 283.50,222.20 277.35,225.55 271.20,228.91 265.05,232.30 258.90,235.70 252.75,239.12 246.60,242.56 240.45,246.02 234.30,249.49 228.15,252.99 222.00,256.50" fill="#f49a8c" fill-opacity="0.62"/>
<line x1="222.00" y1="254.40" x2="320.40" y2="200.40" stroke="#c81f48" stroke-width="1.9" />
<line x1="222.00" y1="250.70" x2="320.40" y2="199.20" stroke="#8a1c62" stroke-width="1.9" />
<line x1="222.00" y1="264.90" x2="320.40" y2="204.40" stroke="#6c2a86" stroke-width="1.9" />
<line x1="222.00" y1="269.80" x2="320.40" y2="216.00" stroke="#5b3797" stroke-width="1.9" />
<line x1="222.00" y1="273.40" x2="320.40" y2="231.80" stroke="#4a43a3" stroke-width="1.9" />
<line x1="222.00" y1="278.30" x2="320.40" y2="234.40" stroke="#3b4aa6" stroke-width="1.9" />
<line x1="222.00" y1="281.20" x2="320.40" y2="250.70" stroke="#3a62ba" stroke-width="1.9" />
<text x="179.6" y="339.6" font-size="13" font-weight="bold" fill="#111">j</text>
<rect x="217.50" y="337.70" width="108.70" height="105.70" fill="none" stroke="#8c8c8c" stroke-width="1.0" />
<line x1="214.30" y1="363.80" x2="217.50" y2="363.80" stroke="#8c8c8c" stroke-width="0.8" />
<text x="211.90" y="366.50" font-size="7.5" fill="#2c2c2c" text-anchor="end" stroke="#2c2c2c" stroke-width="0.1">1</text>
<line x1="214.30" y1="398.20" x2="217.50" y2="398.20" stroke="#8c8c8c" stroke-width="0.8" />
<text x="211.90" y="400.90" font-size="7.5" fill="#2c2c2c" text-anchor="end" stroke="#2c2c2c" stroke-width="0.1">0</text>
<line x1="214.30" y1="432.60" x2="217.50" y2="432.60" stroke="#8c8c8c" stroke-width="0.8" />
<text x="211.90" y="435.30" font-size="7.5" fill="#2c2c2c" text-anchor="end" textLength="6.60" lengthAdjust="spacingAndGlyphs" stroke="#2c2c2c" stroke-width="0.1">−1</text>
<line x1="222.00" y1="443.40" x2="222.00" y2="445.70" stroke="#8c8c8c" stroke-width="0.8" />
<text x="222.00" y="454.90" font-size="7.5" fill="#2c2c2c" text-anchor="middle" stroke="#2c2c2c" stroke-width="0.1">1</text>
<line x1="231.84" y1="443.40" x2="231.84" y2="445.70" stroke="#8c8c8c" stroke-width="0.8" />
<text x="231.84" y="454.90" font-size="7.5" fill="#2c2c2c" text-anchor="middle" stroke="#2c2c2c" stroke-width="0.1">2</text>
<line x1="241.68" y1="443.40" x2="241.68" y2="445.70" stroke="#8c8c8c" stroke-width="0.8" />
<text x="241.68" y="454.90" font-size="7.5" fill="#2c2c2c" text-anchor="middle" stroke="#2c2c2c" stroke-width="0.1">3</text>
<line x1="251.52" y1="443.40" x2="251.52" y2="445.70" stroke="#8c8c8c" stroke-width="0.8" />
<text x="251.52" y="454.90" font-size="7.5" fill="#2c2c2c" text-anchor="middle" stroke="#2c2c2c" stroke-width="0.1">4</text>
<line x1="261.36" y1="443.40" x2="261.36" y2="445.70" stroke="#8c8c8c" stroke-width="0.8" />
<text x="261.36" y="454.90" font-size="7.5" fill="#2c2c2c" text-anchor="middle" stroke="#2c2c2c" stroke-width="0.1">5</text>
<line x1="271.20" y1="443.40" x2="271.20" y2="445.70" stroke="#8c8c8c" stroke-width="0.8" />
<text x="271.20" y="454.90" font-size="7.5" fill="#2c2c2c" text-anchor="middle" stroke="#2c2c2c" stroke-width="0.1">6</text>
<line x1="281.04" y1="443.40" x2="281.04" y2="445.70" stroke="#8c8c8c" stroke-width="0.8" />
<text x="281.04" y="454.90" font-size="7.5" fill="#2c2c2c" text-anchor="middle" stroke="#2c2c2c" stroke-width="0.1">7</text>
<line x1="290.88" y1="443.40" x2="290.88" y2="445.70" stroke="#8c8c8c" stroke-width="0.8" />
<text x="290.88" y="454.90" font-size="7.5" fill="#2c2c2c" text-anchor="middle" stroke="#2c2c2c" stroke-width="0.1">8</text>
<line x1="300.72" y1="443.40" x2="300.72" y2="445.70" stroke="#8c8c8c" stroke-width="0.8" />
<text x="300.72" y="454.90" font-size="7.5" fill="#2c2c2c" text-anchor="middle" stroke="#2c2c2c" stroke-width="0.1">9</text>
<line x1="310.56" y1="443.40" x2="310.56" y2="445.70" stroke="#8c8c8c" stroke-width="0.8" />
<text x="310.56" y="454.90" font-size="7.5" fill="#2c2c2c" text-anchor="middle" textLength="7.30" lengthAdjust="spacingAndGlyphs" stroke="#2c2c2c" stroke-width="0.1">10</text>
<line x1="320.40" y1="443.40" x2="320.40" y2="445.70" stroke="#8c8c8c" stroke-width="0.8" />
<text x="320.40" y="454.90" font-size="7.5" fill="#2c2c2c" text-anchor="middle" textLength="5.80" lengthAdjust="spacingAndGlyphs" stroke="#2c2c2c" stroke-width="0.1">11</text>
<text x="276.40" y="468.69" font-size="8.3" fill="#262626" text-anchor="middle" textLength="45.80" lengthAdjust="spacingAndGlyphs" stroke="#262626" stroke-width="0.2">Time (days)</text>
<text transform="translate(198.2 390.5) rotate(-90)" font-size="8.3" fill="#262626" text-anchor="middle" textLength="28.6" lengthAdjust="spacingAndGlyphs" stroke="#262626" stroke-width="0.2">z-score</text>
<line x1="222.00" y1="403.70" x2="320.40" y2="344.60" stroke="#3b4aa6" stroke-width="1.9" />
<line x1="222.00" y1="413.90" x2="320.40" y2="352.20" stroke="#4a43a3" stroke-width="1.9" />
<line x1="222.00" y1="415.00" x2="320.40" y2="357.00" stroke="#3a62ba" stroke-width="1.9" />
<line x1="222.00" y1="417.30" x2="320.40" y2="370.00" stroke="#5b3797" stroke-width="1.9" />
<line x1="222.00" y1="424.40" x2="320.40" y2="365.60" stroke="#6c2a86" stroke-width="1.9" />
<line x1="222.00" y1="425.90" x2="320.40" y2="384.60" stroke="#8a1c62" stroke-width="1.9" />
<line x1="222.00" y1="428.00" x2="320.40" y2="407.20" stroke="#c81f48" stroke-width="1.9" />
<line x1="222.00" y1="436.80" x2="320.40" y2="420.30" stroke="#e8232f" stroke-width="2.4" />
<text x="340.6" y="11.8" font-size="13" font-weight="bold" fill="#111">e</text>
<rect x="373.20" y="39.60" width="141.00" height="84.00" fill="#ebebeb" />
<rect x="374.10" y="40.50" width="12.95" height="10.58" fill="rgb(196,196,196)"/>
<rect x="386.75" y="40.50" width="12.95" height="10.58" fill="rgb(218,218,218)"/>
<rect x="399.41" y="40.50" width="12.95" height="10.58" fill="rgb(203,203,203)"/>
<rect x="412.06" y="40.50" width="12.95" height="10.58" fill="rgb(205,205,205)"/>
<rect x="424.72" y="40.50" width="12.95" height="10.58" fill="rgb(207,207,207)"/>
<rect x="437.37" y="40.50" width="12.95" height="10.58" fill="rgb(227,227,227)"/>
<rect x="450.03" y="40.50" width="12.95" height="10.58" fill="rgb(229,229,229)"/>
<rect x="462.68" y="40.50" width="12.95" height="10.58" fill="rgb(216,216,216)"/>
<rect x="475.34" y="40.50" width="12.95" height="10.58" fill="rgb(195,195,195)"/>
<rect x="487.99" y="40.50" width="12.95" height="10.58" fill="rgb(200,200,200)"/>
<rect x="500.65" y="40.50" width="12.95" height="10.58" fill="rgb(213,213,213)"/>
<rect x="374.10" y="50.77" width="12.95" height="10.58" fill="rgb(192,192,192)"/>
<rect x="386.75" y="50.77" width="12.95" height="10.58" fill="rgb(181,181,181)"/>
<rect x="399.41" y="50.77" width="12.95" height="10.58" fill="rgb(224,224,224)"/>
<rect x="412.06" y="50.77" width="12.95" height="10.58" fill="rgb(227,227,227)"/>
<rect x="424.72" y="50.77" width="12.95" height="10.58" fill="rgb(227,227,227)"/>
<rect x="437.37" y="50.77" width="12.95" height="10.58" fill="rgb(218,218,218)"/>
<rect x="450.03" y="50.77" width="12.95" height="10.58" fill="rgb(216,216,216)"/>
<rect x="462.68" y="50.77" width="12.95" height="10.58" fill="rgb(204,204,204)"/>
<rect x="475.34" y="50.77" width="12.95" height="10.58" fill="rgb(189,189,189)"/>
<rect x="487.99" y="50.77" width="12.95" height="10.58" fill="rgb(208,208,208)"/>
<rect x="500.65" y="50.77" width="12.95" height="10.58" fill="rgb(211,211,211)"/>
<rect x="374.10" y="61.05" width="12.95" height="10.58" fill="rgb(200,200,200)"/>
<rect x="386.75" y="61.05" width="12.95" height="10.58" fill="rgb(200,200,200)"/>
<rect x="399.41" y="61.05" width="12.95" height="10.58" fill="rgb(213,213,213)"/>
<rect x="412.06" y="61.05" width="12.95" height="10.58" fill="rgb(197,197,197)"/>
<rect x="424.72" y="61.05" width="12.95" height="10.58" fill="rgb(189,189,189)"/>
<rect x="437.37" y="61.05" width="12.95" height="10.58" fill="rgb(224,224,224)"/>
<rect x="450.03" y="61.05" width="12.95" height="10.58" fill="rgb(162,162,162)"/>
<rect x="462.68" y="61.05" width="12.95" height="10.58" fill="rgb(178,178,178)"/>
<rect x="475.34" y="61.05" width="12.95" height="10.58" fill="rgb(255,255,255)"/>
<rect x="487.99" y="61.05" width="12.95" height="10.58" fill="rgb(192,192,192)"/>
<rect x="500.65" y="61.05" width="12.95" height="10.58" fill="rgb(203,203,203)"/>
<rect x="374.10" y="71.33" width="12.95" height="10.58" fill="rgb(181,181,181)"/>
<rect x="386.75" y="71.33" width="12.95" height="10.58" fill="rgb(197,197,197)"/>
<rect x="399.41" y="71.33" width="12.95" height="10.58" fill="rgb(220,220,220)"/>
<rect x="412.06" y="71.33" width="12.95" height="10.58" fill="rgb(189,189,189)"/>
<rect x="424.72" y="71.33" width="12.95" height="10.58" fill="rgb(197,197,197)"/>
<rect x="437.37" y="71.33" width="12.95" height="10.58" fill="rgb(142,142,142)"/>
<rect x="450.03" y="71.33" width="12.95" height="10.58" fill="rgb(216,216,216)"/>
<rect x="462.68" y="71.33" width="12.95" height="10.58" fill="rgb(213,213,213)"/>
<rect x="475.34" y="71.33" width="12.95" height="10.58" fill="rgb(211,211,211)"/>
<rect x="487.99" y="71.33" width="12.95" height="10.58" fill="rgb(184,184,184)"/>
<rect x="500.65" y="71.33" width="12.95" height="10.58" fill="rgb(200,200,200)"/>
<rect x="374.10" y="81.60" width="12.95" height="10.58" fill="rgb(154,154,154)"/>
<rect x="386.75" y="81.60" width="12.95" height="10.58" fill="rgb(188,188,188)"/>
<rect x="399.41" y="81.60" width="12.95" height="10.58" fill="rgb(168,168,168)"/>
<rect x="412.06" y="81.60" width="12.95" height="10.58" fill="rgb(154,154,154)"/>
<rect x="424.72" y="81.60" width="12.95" height="10.58" fill="rgb(171,171,171)"/>
<rect x="437.37" y="81.60" width="12.95" height="10.58" fill="rgb(172,172,172)"/>
<rect x="450.03" y="81.60" width="12.95" height="10.58" fill="rgb(176,176,176)"/>
<rect x="462.68" y="81.60" width="12.95" height="10.58" fill="rgb(197,197,197)"/>
<rect x="475.34" y="81.60" width="12.95" height="10.58" fill="rgb(170,170,170)"/>
<rect x="487.99" y="81.60" width="12.95" height="10.58" fill="rgb(155,155,155)"/>
<rect x="500.65" y="81.60" width="12.95" height="10.58" fill="rgb(189,189,189)"/>
<rect x="374.10" y="91.88" width="12.95" height="10.58" fill="rgb(152,152,152)"/>
<rect x="386.75" y="91.88" width="12.95" height="10.58" fill="rgb(176,176,176)"/>
<rect x="399.41" y="91.88" width="12.95" height="10.58" fill="rgb(133,133,133)"/>
<rect x="412.06" y="91.88" width="12.95" height="10.58" fill="rgb(156,156,156)"/>
<rect x="424.72" y="91.88" width="12.95" height="10.58" fill="rgb(80,80,80)"/>
<rect x="437.37" y="91.88" width="12.95" height="10.58" fill="rgb(188,188,188)"/>
<rect x="450.03" y="91.88" width="12.95" height="10.58" fill="rgb(152,152,152)"/>
<rect x="462.68" y="91.88" width="12.95" height="10.58" fill="rgb(162,162,162)"/>
<rect x="475.34" y="91.88" width="12.95" height="10.58" fill="rgb(165,165,165)"/>
<rect x="487.99" y="91.88" width="12.95" height="10.58" fill="rgb(124,124,124)"/>
<rect x="500.65" y="91.88" width="12.95" height="10.58" fill="rgb(149,149,149)"/>
<rect x="374.10" y="102.15" width="12.95" height="10.58" fill="rgb(94,94,94)"/>
<rect x="386.75" y="102.15" width="12.95" height="10.58" fill="rgb(34,34,34)"/>
<rect x="399.41" y="102.15" width="12.95" height="10.58" fill="rgb(119,119,119)"/>
<rect x="412.06" y="102.15" width="12.95" height="10.58" fill="rgb(94,94,94)"/>
<rect x="424.72" y="102.15" width="12.95" height="10.58" fill="rgb(138,138,138)"/>
<rect x="437.37" y="102.15" width="12.95" height="10.58" fill="rgb(170,170,170)"/>
<rect x="450.03" y="102.15" width="12.95" height="10.58" fill="rgb(124,124,124)"/>
<rect x="462.68" y="102.15" width="12.95" height="10.58" fill="rgb(94,94,94)"/>
<rect x="475.34" y="102.15" width="12.95" height="10.58" fill="rgb(108,108,108)"/>
<rect x="487.99" y="102.15" width="12.95" height="10.58" fill="rgb(62,62,62)"/>
<rect x="500.65" y="102.15" width="12.95" height="10.58" fill="rgb(136,136,136)"/>
<rect x="374.10" y="112.42" width="12.95" height="10.58" fill="rgb(94,94,94)"/>
<rect x="386.75" y="112.42" width="12.95" height="10.58" fill="rgb(144,144,144)"/>
<rect x="399.41" y="112.42" width="12.95" height="10.58" fill="rgb(98,98,98)"/>
<rect x="412.06" y="112.42" width="12.95" height="10.58" fill="rgb(106,106,106)"/>
<rect x="424.72" y="112.42" width="12.95" height="10.58" fill="rgb(122,122,122)"/>
<rect x="437.37" y="112.42" width="12.95" height="10.58" fill="rgb(74,74,74)"/>
<rect x="450.03" y="112.42" width="12.95" height="10.58" fill="rgb(162,162,162)"/>
<rect x="462.68" y="112.42" width="12.95" height="10.58" fill="rgb(106,106,106)"/>
<rect x="475.34" y="112.42" width="12.95" height="10.58" fill="rgb(84,84,84)"/>
<rect x="487.99" y="112.42" width="12.95" height="10.58" fill="rgb(122,122,122)"/>
<rect x="500.65" y="112.42" width="12.95" height="10.58" fill="rgb(181,181,181)"/>
<line x1="370.80" y1="46.04" x2="372.80" y2="46.04" stroke="#555" stroke-width="0.8" />
<text x="367.70" y="48.74" font-size="7.5" fill="#2c2c2c" text-anchor="end" textLength="14.40" lengthAdjust="spacingAndGlyphs" stroke="#2c2c2c" stroke-width="0.1">1.00</text>
<line x1="370.80" y1="56.31" x2="372.80" y2="56.31" stroke="#555" stroke-width="0.8" />
<text x="367.70" y="59.01" font-size="7.5" fill="#2c2c2c" text-anchor="end" textLength="14.40" lengthAdjust="spacingAndGlyphs" stroke="#2c2c2c" stroke-width="0.1">1.12</text>
<line x1="370.80" y1="66.59" x2="372.80" y2="66.59" stroke="#555" stroke-width="0.8" />
<text x="367.70" y="69.29" font-size="7.5" fill="#2c2c2c" text-anchor="end" textLength="14.40" lengthAdjust="spacingAndGlyphs" stroke="#2c2c2c" stroke-width="0.1">1.25</text>
<line x1="370.80" y1="76.86" x2="372.80" y2="76.86" stroke="#555" stroke-width="0.8" />
<text x="367.70" y="79.56" font-size="7.5" fill="#2c2c2c" text-anchor="end" textLength="14.40" lengthAdjust="spacingAndGlyphs" stroke="#2c2c2c" stroke-width="0.1">1.43</text>
<line x1="370.80" y1="87.14" x2="372.80" y2="87.14" stroke="#555" stroke-width="0.8" />
<text x="367.70" y="89.84" font-size="7.5" fill="#2c2c2c" text-anchor="end" textLength="14.40" lengthAdjust="spacingAndGlyphs" stroke="#2c2c2c" stroke-width="0.1">1.67</text>
<line x1="370.80" y1="97.41" x2="372.80" y2="97.41" stroke="#555" stroke-width="0.8" />
<text x="367.70" y="100.11" font-size="7.5" fill="#2c2c2c" text-anchor="end" textLength="14.40" lengthAdjust="spacingAndGlyphs" stroke="#2c2c2c" stroke-width="0.1">2.00</text>
<line x1="370.80" y1="107.69" x2="372.80" y2="107.69" stroke="#555" stroke-width="0.8" />
<text x="367.70" y="110.39" font-size="7.5" fill="#2c2c2c" text-anchor="end" textLength="14.40" lengthAdjust="spacingAndGlyphs" stroke="#2c2c2c" stroke-width="0.1">2.50</text>
<line x1="370.80" y1="117.96" x2="372.80" y2="117.96" stroke="#555" stroke-width="0.8" />
<text x="367.70" y="120.66" font-size="7.5" fill="#2c2c2c" text-anchor="end" textLength="14.40" lengthAdjust="spacingAndGlyphs" stroke="#2c2c2c" stroke-width="0.1">3.33</text>
<line x1="380.43" y1="124.30" x2="380.43" y2="125.90" stroke="#555" stroke-width="0.8" />
<text x="380.43" y="136.30" font-size="7.5" fill="#2c2c2c" text-anchor="middle" stroke="#2c2c2c" stroke-width="0.1">1</text>
<line x1="393.08" y1="124.30" x2="393.08" y2="125.90" stroke="#555" stroke-width="0.8" />
<text x="393.08" y="136.30" font-size="7.5" fill="#2c2c2c" text-anchor="middle" stroke="#2c2c2c" stroke-width="0.1">2</text>
<line x1="405.74" y1="124.30" x2="405.74" y2="125.90" stroke="#555" stroke-width="0.8" />
<text x="405.74" y="136.30" font-size="7.5" fill="#2c2c2c" text-anchor="middle" stroke="#2c2c2c" stroke-width="0.1">3</text>
<line x1="418.39" y1="124.30" x2="418.39" y2="125.90" stroke="#555" stroke-width="0.8" />
<text x="418.39" y="136.30" font-size="7.5" fill="#2c2c2c" text-anchor="middle" stroke="#2c2c2c" stroke-width="0.1">4</text>
<line x1="431.05" y1="124.30" x2="431.05" y2="125.90" stroke="#555" stroke-width="0.8" />
<text x="431.05" y="136.30" font-size="7.5" fill="#2c2c2c" text-anchor="middle" stroke="#2c2c2c" stroke-width="0.1">5</text>
<line x1="443.70" y1="124.30" x2="443.70" y2="125.90" stroke="#555" stroke-width="0.8" />
<text x="443.70" y="136.30" font-size="7.5" fill="#2c2c2c" text-anchor="middle" stroke="#2c2c2c" stroke-width="0.1">6</text>
<line x1="456.35" y1="124.30" x2="456.35" y2="125.90" stroke="#555" stroke-width="0.8" />
<text x="456.35" y="136.30" font-size="7.5" fill="#2c2c2c" text-anchor="middle" stroke="#2c2c2c" stroke-width="0.1">7</text>
<line x1="469.01" y1="124.30" x2="469.01" y2="125.90" stroke="#555" stroke-width="0.8" />
<text x="469.01" y="136.30" font-size="7.5" fill="#2c2c2c" text-anchor="middle" stroke="#2c2c2c" stroke-width="0.1">8</text>
<line x1="481.66" y1="124.30" x2="481.66" y2="125.90" stroke="#555" stroke-width="0.8" />
<text x="481.66" y="136.30" font-size="7.5" fill="#2c2c2c" text-anchor="middle" stroke="#2c2c2c" stroke-width="0.1">9</text>
<line x1="494.32" y1="124.30" x2="494.32" y2="125.90" stroke="#555" stroke-width="0.8" />
<text x="494.32" y="136.30" font-size="7.5" fill="#2c2c2c" text-anchor="middle" textLength="7.30" lengthAdjust="spacingAndGlyphs" stroke="#2c2c2c" stroke-width="0.1">10</text>
<line x1="506.97" y1="124.30" x2="506.97" y2="125.90" stroke="#555" stroke-width="0.8" />
<text x="506.97" y="136.30" font-size="7.5" fill="#2c2c2c" text-anchor="middle" textLength="5.80" lengthAdjust="spacingAndGlyphs" stroke="#2c2c2c" stroke-width="0.1">11</text>
<text x="444.00" y="149.69" font-size="8.3" fill="#262626" text-anchor="middle" textLength="45.80" lengthAdjust="spacingAndGlyphs" stroke="#262626" stroke-width="0.2">Time (days)</text>
<text transform="translate(346.4 81.6) rotate(-90)" font-size="8.3" fill="#262626" text-anchor="middle" textLength="18" lengthAdjust="spacingAndGlyphs" stroke="#262626" stroke-width="0.2">× HA</text>
<text x="490.50" y="23.39" font-size="8.3" fill="#262626" text-anchor="middle" font-style="italic" textLength="31.97" lengthAdjust="spacingAndGlyphs" stroke="#262626" stroke-width="0.2">HSFB2B</text>
<rect x="476.0" y="26.4" width="26.5" height="7.100000000000001" fill="url(#gGray)"/>
<text x="474.20" y="32.65" font-size="7.5" fill="#2c2c2c" text-anchor="end" stroke="#2c2c2c" stroke-width="0.1">20</text>
<text x="505.00" y="32.65" font-size="7.5" fill="#2c2c2c" stroke="#2c2c2c" stroke-width="0.1">80</text>
<text x="340.6" y="170.0" font-size="13" font-weight="bold" fill="#111">h</text>
<rect x="373.10" y="205.70" width="134.80" height="81.80" fill="#ebebeb" />
<rect x="374.00" y="206.60" width="12.39" height="10.30" fill="rgb(205,205,205)"/>
<rect x="386.09" y="206.60" width="12.39" height="10.30" fill="rgb(227,227,227)"/>
<rect x="398.18" y="206.60" width="12.39" height="10.30" fill="rgb(238,238,238)"/>
<rect x="410.27" y="206.60" width="12.39" height="10.30" fill="rgb(216,216,216)"/>
<rect x="422.36" y="206.60" width="12.39" height="10.30" fill="rgb(247,247,247)"/>
<rect x="434.45" y="206.60" width="12.39" height="10.30" fill="rgb(239,239,239)"/>
<rect x="446.55" y="206.60" width="12.39" height="10.30" fill="rgb(218,218,218)"/>
<rect x="458.64" y="206.60" width="12.39" height="10.30" fill="rgb(222,222,222)"/>
<rect x="470.73" y="206.60" width="12.39" height="10.30" fill="rgb(197,197,197)"/>
<rect x="482.82" y="206.60" width="12.39" height="10.30" fill="rgb(188,188,188)"/>
<rect x="494.91" y="206.60" width="12.39" height="10.30" fill="rgb(176,176,176)"/>
<rect x="374.00" y="216.60" width="12.39" height="10.30" fill="rgb(224,224,224)"/>
<rect x="386.09" y="216.60" width="12.39" height="10.30" fill="rgb(224,224,224)"/>
<rect x="398.18" y="216.60" width="12.39" height="10.30" fill="rgb(243,243,243)"/>
<rect x="410.27" y="216.60" width="12.39" height="10.30" fill="rgb(239,239,239)"/>
<rect x="422.36" y="216.60" width="12.39" height="10.30" fill="rgb(251,251,251)"/>
<rect x="434.45" y="216.60" width="12.39" height="10.30" fill="rgb(229,229,229)"/>
<rect x="446.55" y="216.60" width="12.39" height="10.30" fill="rgb(208,208,208)"/>
<rect x="458.64" y="216.60" width="12.39" height="10.30" fill="rgb(222,222,222)"/>
<rect x="470.73" y="216.60" width="12.39" height="10.30" fill="rgb(229,229,229)"/>
<rect x="482.82" y="216.60" width="12.39" height="10.30" fill="rgb(232,232,232)"/>
<rect x="494.91" y="216.60" width="12.39" height="10.30" fill="rgb(203,203,203)"/>
<rect x="374.00" y="226.60" width="12.39" height="10.30" fill="rgb(245,245,245)"/>
<rect x="386.09" y="226.60" width="12.39" height="10.30" fill="rgb(216,216,216)"/>
<rect x="398.18" y="226.60" width="12.39" height="10.30" fill="rgb(229,229,229)"/>
<rect x="410.27" y="226.60" width="12.39" height="10.30" fill="rgb(232,232,232)"/>
<rect x="422.36" y="226.60" width="12.39" height="10.30" fill="rgb(232,232,232)"/>
<rect x="434.45" y="226.60" width="12.39" height="10.30" fill="rgb(224,224,224)"/>
<rect x="446.55" y="226.60" width="12.39" height="10.30" fill="rgb(184,184,184)"/>
<rect x="458.64" y="226.60" width="12.39" height="10.30" fill="rgb(200,200,200)"/>
<rect x="470.73" y="226.60" width="12.39" height="10.30" fill="rgb(224,224,224)"/>
<rect x="482.82" y="226.60" width="12.39" height="10.30" fill="rgb(211,211,211)"/>
<rect x="494.91" y="226.60" width="12.39" height="10.30" fill="rgb(203,203,203)"/>
<rect x="374.00" y="236.60" width="12.39" height="10.30" fill="rgb(189,189,189)"/>
<rect x="386.09" y="236.60" width="12.39" height="10.30" fill="rgb(224,224,224)"/>
<rect x="398.18" y="236.60" width="12.39" height="10.30" fill="rgb(245,245,245)"/>
<rect x="410.27" y="236.60" width="12.39" height="10.30" fill="rgb(220,220,220)"/>
<rect x="422.36" y="236.60" width="12.39" height="10.30" fill="rgb(211,211,211)"/>
<rect x="434.45" y="236.60" width="12.39" height="10.30" fill="rgb(189,189,189)"/>
<rect x="446.55" y="236.60" width="12.39" height="10.30" fill="rgb(203,203,203)"/>
<rect x="458.64" y="236.60" width="12.39" height="10.30" fill="rgb(200,200,200)"/>
<rect x="470.73" y="236.60" width="12.39" height="10.30" fill="rgb(157,157,157)"/>
<rect x="482.82" y="236.60" width="12.39" height="10.30" fill="rgb(184,184,184)"/>
<rect x="494.91" y="236.60" width="12.39" height="10.30" fill="rgb(192,192,192)"/>
<rect x="374.00" y="246.60" width="12.39" height="10.30" fill="rgb(220,220,220)"/>
<rect x="386.09" y="246.60" width="12.39" height="10.30" fill="rgb(211,211,211)"/>
<rect x="398.18" y="246.60" width="12.39" height="10.30" fill="rgb(211,211,211)"/>
<rect x="410.27" y="246.60" width="12.39" height="10.30" fill="rgb(197,197,197)"/>
<rect x="422.36" y="246.60" width="12.39" height="10.30" fill="rgb(232,232,232)"/>
<rect x="434.45" y="246.60" width="12.39" height="10.30" fill="rgb(189,189,189)"/>
<rect x="446.55" y="246.60" width="12.39" height="10.30" fill="rgb(195,195,195)"/>
<rect x="458.64" y="246.60" width="12.39" height="10.30" fill="rgb(184,184,184)"/>
<rect x="470.73" y="246.60" width="12.39" height="10.30" fill="rgb(220,220,220)"/>
<rect x="482.82" y="246.60" width="12.39" height="10.30" fill="rgb(184,184,184)"/>
<rect x="494.91" y="246.60" width="12.39" height="10.30" fill="rgb(165,165,165)"/>
<rect x="374.00" y="256.60" width="12.39" height="10.30" fill="rgb(218,218,218)"/>
<rect x="386.09" y="256.60" width="12.39" height="10.30" fill="rgb(229,229,229)"/>
<rect x="398.18" y="256.60" width="12.39" height="10.30" fill="rgb(195,195,195)"/>
<rect x="410.27" y="256.60" width="12.39" height="10.30" fill="rgb(218,218,218)"/>
<rect x="422.36" y="256.60" width="12.39" height="10.30" fill="rgb(216,216,216)"/>
<rect x="434.45" y="256.60" width="12.39" height="10.30" fill="rgb(181,181,181)"/>
<rect x="446.55" y="256.60" width="12.39" height="10.30" fill="rgb(138,138,138)"/>
<rect x="458.64" y="256.60" width="12.39" height="10.30" fill="rgb(102,102,102)"/>
<rect x="470.73" y="256.60" width="12.39" height="10.30" fill="rgb(189,189,189)"/>
<rect x="482.82" y="256.60" width="12.39" height="10.30" fill="rgb(165,165,165)"/>
<rect x="494.91" y="256.60" width="12.39" height="10.30" fill="rgb(142,142,142)"/>
<rect x="374.00" y="266.60" width="12.39" height="10.30" fill="rgb(208,208,208)"/>
<rect x="386.09" y="266.60" width="12.39" height="10.30" fill="rgb(197,197,197)"/>
<rect x="398.18" y="266.60" width="12.39" height="10.30" fill="rgb(216,216,216)"/>
<rect x="410.27" y="266.60" width="12.39" height="10.30" fill="rgb(218,218,218)"/>
<rect x="422.36" y="266.60" width="12.39" height="10.30" fill="rgb(213,213,213)"/>
<rect x="434.45" y="266.60" width="12.39" height="10.30" fill="rgb(112,112,112)"/>
<rect x="446.55" y="266.60" width="12.39" height="10.30" fill="rgb(163,163,163)"/>
<rect x="458.64" y="266.60" width="12.39" height="10.30" fill="rgb(112,112,112)"/>
<rect x="470.73" y="266.60" width="12.39" height="10.30" fill="rgb(140,140,140)"/>
<rect x="482.82" y="266.60" width="12.39" height="10.30" fill="rgb(106,106,106)"/>
<rect x="494.91" y="266.60" width="12.39" height="10.30" fill="rgb(58,58,58)"/>
<rect x="374.00" y="276.60" width="12.39" height="10.30" fill="rgb(176,176,176)"/>
<rect x="386.09" y="276.60" width="12.39" height="10.30" fill="rgb(126,126,126)"/>
<rect x="398.18" y="276.60" width="12.39" height="10.30" fill="rgb(157,157,157)"/>
<rect x="410.27" y="276.60" width="12.39" height="10.30" fill="rgb(192,192,192)"/>
<rect x="422.36" y="276.60" width="12.39" height="10.30" fill="rgb(181,181,181)"/>
<rect x="434.45" y="276.60" width="12.39" height="10.30" fill="rgb(106,106,106)"/>
<rect x="446.55" y="276.60" width="12.39" height="10.30" fill="rgb(64,64,64)"/>
<rect x="458.64" y="276.60" width="12.39" height="10.30" fill="rgb(64,64,64)"/>
<rect x="470.73" y="276.60" width="12.39" height="10.30" fill="rgb(116,116,116)"/>
<rect x="482.82" y="276.60" width="12.39" height="10.30" fill="rgb(128,128,128)"/>
<rect x="494.91" y="276.60" width="12.39" height="10.30" fill="rgb(106,106,106)"/>
<line x1="370.70" y1="212.00" x2="372.70" y2="212.00" stroke="#555" stroke-width="0.8" />
<text x="367.60" y="214.70" font-size="7.5" fill="#2c2c2c" text-anchor="end" textLength="14.40" lengthAdjust="spacingAndGlyphs" stroke="#2c2c2c" stroke-width="0.1">1.00</text>
<line x1="370.70" y1="222.00" x2="372.70" y2="222.00" stroke="#555" stroke-width="0.8" />
<text x="367.60" y="224.70" font-size="7.5" fill="#2c2c2c" text-anchor="end" textLength="14.40" lengthAdjust="spacingAndGlyphs" stroke="#2c2c2c" stroke-width="0.1">1.12</text>
<line x1="370.70" y1="232.00" x2="372.70" y2="232.00" stroke="#555" stroke-width="0.8" />
<text x="367.60" y="234.70" font-size="7.5" fill="#2c2c2c" text-anchor="end" textLength="14.40" lengthAdjust="spacingAndGlyphs" stroke="#2c2c2c" stroke-width="0.1">1.25</text>
<line x1="370.70" y1="242.00" x2="372.70" y2="242.00" stroke="#555" stroke-width="0.8" />
<text x="367.60" y="244.70" font-size="7.5" fill="#2c2c2c" text-anchor="end" textLength="14.40" lengthAdjust="spacingAndGlyphs" stroke="#2c2c2c" stroke-width="0.1">1.43</text>
<line x1="370.70" y1="252.00" x2="372.70" y2="252.00" stroke="#555" stroke-width="0.8" />
<text x="367.60" y="254.70" font-size="7.5" fill="#2c2c2c" text-anchor="end" textLength="14.40" lengthAdjust="spacingAndGlyphs" stroke="#2c2c2c" stroke-width="0.1">1.67</text>
<line x1="370.70" y1="262.00" x2="372.70" y2="262.00" stroke="#555" stroke-width="0.8" />
<text x="367.60" y="264.70" font-size="7.5" fill="#2c2c2c" text-anchor="end" textLength="14.40" lengthAdjust="spacingAndGlyphs" stroke="#2c2c2c" stroke-width="0.1">2.00</text>
<line x1="370.70" y1="272.00" x2="372.70" y2="272.00" stroke="#555" stroke-width="0.8" />
<text x="367.60" y="274.70" font-size="7.5" fill="#2c2c2c" text-anchor="end" textLength="14.40" lengthAdjust="spacingAndGlyphs" stroke="#2c2c2c" stroke-width="0.1">2.50</text>
<line x1="370.70" y1="282.00" x2="372.70" y2="282.00" stroke="#555" stroke-width="0.8" />
<text x="367.60" y="284.70" font-size="7.5" fill="#2c2c2c" text-anchor="end" textLength="14.40" lengthAdjust="spacingAndGlyphs" stroke="#2c2c2c" stroke-width="0.1">3.33</text>
<line x1="380.05" y1="288.20" x2="380.05" y2="289.80" stroke="#555" stroke-width="0.8" />
<text x="380.05" y="299.10" font-size="7.5" fill="#2c2c2c" text-anchor="middle" stroke="#2c2c2c" stroke-width="0.1">1</text>
<line x1="392.14" y1="288.20" x2="392.14" y2="289.80" stroke="#555" stroke-width="0.8" />
<text x="392.14" y="299.10" font-size="7.5" fill="#2c2c2c" text-anchor="middle" stroke="#2c2c2c" stroke-width="0.1">2</text>
<line x1="404.23" y1="288.20" x2="404.23" y2="289.80" stroke="#555" stroke-width="0.8" />
<text x="404.23" y="299.10" font-size="7.5" fill="#2c2c2c" text-anchor="middle" stroke="#2c2c2c" stroke-width="0.1">3</text>
<line x1="416.32" y1="288.20" x2="416.32" y2="289.80" stroke="#555" stroke-width="0.8" />
<text x="416.32" y="299.10" font-size="7.5" fill="#2c2c2c" text-anchor="middle" stroke="#2c2c2c" stroke-width="0.1">4</text>
<line x1="428.41" y1="288.20" x2="428.41" y2="289.80" stroke="#555" stroke-width="0.8" />
<text x="428.41" y="299.10" font-size="7.5" fill="#2c2c2c" text-anchor="middle" stroke="#2c2c2c" stroke-width="0.1">5</text>
<line x1="440.50" y1="288.20" x2="440.50" y2="289.80" stroke="#555" stroke-width="0.8" />
<text x="440.50" y="299.10" font-size="7.5" fill="#2c2c2c" text-anchor="middle" stroke="#2c2c2c" stroke-width="0.1">6</text>
<line x1="452.59" y1="288.20" x2="452.59" y2="289.80" stroke="#555" stroke-width="0.8" />
<text x="452.59" y="299.10" font-size="7.5" fill="#2c2c2c" text-anchor="middle" stroke="#2c2c2c" stroke-width="0.1">7</text>
<line x1="464.68" y1="288.20" x2="464.68" y2="289.80" stroke="#555" stroke-width="0.8" />
<text x="464.68" y="299.10" font-size="7.5" fill="#2c2c2c" text-anchor="middle" stroke="#2c2c2c" stroke-width="0.1">8</text>
<line x1="476.77" y1="288.20" x2="476.77" y2="289.80" stroke="#555" stroke-width="0.8" />
<text x="476.77" y="299.10" font-size="7.5" fill="#2c2c2c" text-anchor="middle" stroke="#2c2c2c" stroke-width="0.1">9</text>
<line x1="488.86" y1="288.20" x2="488.86" y2="289.80" stroke="#555" stroke-width="0.8" />
<text x="488.86" y="299.10" font-size="7.5" fill="#2c2c2c" text-anchor="middle" textLength="7.30" lengthAdjust="spacingAndGlyphs" stroke="#2c2c2c" stroke-width="0.1">10</text>
<line x1="500.95" y1="288.20" x2="500.95" y2="289.80" stroke="#555" stroke-width="0.8" />
<text x="500.95" y="299.10" font-size="7.5" fill="#2c2c2c" text-anchor="middle" textLength="5.80" lengthAdjust="spacingAndGlyphs" stroke="#2c2c2c" stroke-width="0.1">11</text>
<text x="439.70" y="313.19" font-size="8.3" fill="#262626" text-anchor="middle" textLength="45.80" lengthAdjust="spacingAndGlyphs" stroke="#262626" stroke-width="0.2">Time (days)</text>
<text transform="translate(346.4 238.6) rotate(-90)" font-size="8.3" fill="#262626" text-anchor="middle" textLength="18" lengthAdjust="spacingAndGlyphs" stroke="#262626" stroke-width="0.2">× HA</text>
<text x="477.00" y="189.99" font-size="8.3" fill="#262626" text-anchor="middle" font-style="italic" textLength="26.49" lengthAdjust="spacingAndGlyphs" stroke="#262626" stroke-width="0.2">RD29A</text>
<rect x="463.6" y="192.6" width="26.399999999999977" height="8.0" fill="url(#gGray)"/>
<text x="462.20" y="199.30" font-size="7.5" fill="#2c2c2c" text-anchor="end" stroke="#2c2c2c" stroke-width="0.1">100</text>
<text x="492.40" y="199.30" font-size="7.5" fill="#2c2c2c" stroke="#2c2c2c" stroke-width="0.1">400</text>
<text x="340.6" y="339.6" font-size="13" font-weight="bold" fill="#111">k</text>
<rect x="373.30" y="361.70" width="134.60" height="81.40" fill="#ebebeb" />
<rect x="374.20" y="362.60" width="12.37" height="10.25" fill="rgb(189,189,189)"/>
<rect x="386.27" y="362.60" width="12.37" height="10.25" fill="rgb(189,189,189)"/>
<rect x="398.35" y="362.60" width="12.37" height="10.25" fill="rgb(189,189,189)"/>
<rect x="410.42" y="362.60" width="12.37" height="10.25" fill="rgb(197,197,197)"/>
<rect x="422.49" y="362.60" width="12.37" height="10.25" fill="rgb(181,181,181)"/>
<rect x="434.56" y="362.60" width="12.37" height="10.25" fill="rgb(165,165,165)"/>
<rect x="446.64" y="362.60" width="12.37" height="10.25" fill="rgb(122,122,122)"/>
<rect x="458.71" y="362.60" width="12.37" height="10.25" fill="rgb(122,122,122)"/>
<rect x="470.78" y="362.60" width="12.37" height="10.25" fill="rgb(128,128,128)"/>
<rect x="482.85" y="362.60" width="12.37" height="10.25" fill="rgb(84,84,84)"/>
<rect x="494.93" y="362.60" width="12.37" height="10.25" fill="rgb(110,110,110)"/>
<rect x="374.20" y="372.55" width="12.37" height="10.25" fill="rgb(208,208,208)"/>
<rect x="386.27" y="372.55" width="12.37" height="10.25" fill="rgb(147,147,147)"/>
<rect x="398.35" y="372.55" width="12.37" height="10.25" fill="rgb(165,165,165)"/>
<rect x="410.42" y="372.55" width="12.37" height="10.25" fill="rgb(158,158,158)"/>
<rect x="422.49" y="372.55" width="12.37" height="10.25" fill="rgb(176,176,176)"/>
<rect x="434.56" y="372.55" width="12.37" height="10.25" fill="rgb(140,140,140)"/>
<rect x="446.64" y="372.55" width="12.37" height="10.25" fill="rgb(112,112,112)"/>
<rect x="458.71" y="372.55" width="12.37" height="10.25" fill="rgb(138,138,138)"/>
<rect x="470.78" y="372.55" width="12.37" height="10.25" fill="rgb(106,106,106)"/>
<rect x="482.85" y="372.55" width="12.37" height="10.25" fill="rgb(60,60,60)"/>
<rect x="494.93" y="372.55" width="12.37" height="10.25" fill="rgb(96,96,96)"/>
<rect x="374.20" y="382.50" width="12.37" height="10.25" fill="rgb(187,187,187)"/>
<rect x="386.27" y="382.50" width="12.37" height="10.25" fill="rgb(184,184,184)"/>
<rect x="398.35" y="382.50" width="12.37" height="10.25" fill="rgb(200,200,200)"/>
<rect x="410.42" y="382.50" width="12.37" height="10.25" fill="rgb(197,197,197)"/>
<rect x="422.49" y="382.50" width="12.37" height="10.25" fill="rgb(172,172,172)"/>
<rect x="434.56" y="382.50" width="12.37" height="10.25" fill="rgb(160,160,160)"/>
<rect x="446.64" y="382.50" width="12.37" height="10.25" fill="rgb(106,106,106)"/>
<rect x="458.71" y="382.50" width="12.37" height="10.25" fill="rgb(128,128,128)"/>
<rect x="470.78" y="382.50" width="12.37" height="10.25" fill="rgb(122,122,122)"/>
<rect x="482.85" y="382.50" width="12.37" height="10.25" fill="rgb(144,144,144)"/>
<rect x="494.93" y="382.50" width="12.37" height="10.25" fill="rgb(124,124,124)"/>
<rect x="374.20" y="392.45" width="12.37" height="10.25" fill="rgb(218,218,218)"/>
<rect x="386.27" y="392.45" width="12.37" height="10.25" fill="rgb(181,181,181)"/>
<rect x="398.35" y="392.45" width="12.37" height="10.25" fill="rgb(165,165,165)"/>
<rect x="410.42" y="392.45" width="12.37" height="10.25" fill="rgb(200,200,200)"/>
<rect x="422.49" y="392.45" width="12.37" height="10.25" fill="rgb(149,149,149)"/>
<rect x="434.56" y="392.45" width="12.37" height="10.25" fill="rgb(188,188,188)"/>
<rect x="446.64" y="392.45" width="12.37" height="10.25" fill="rgb(181,181,181)"/>
<rect x="458.71" y="392.45" width="12.37" height="10.25" fill="rgb(149,149,149)"/>
<rect x="470.78" y="392.45" width="12.37" height="10.25" fill="rgb(138,138,138)"/>
<rect x="482.85" y="392.45" width="12.37" height="10.25" fill="rgb(122,122,122)"/>
<rect x="494.93" y="392.45" width="12.37" height="10.25" fill="rgb(116,116,116)"/>
<rect x="374.20" y="402.40" width="12.37" height="10.25" fill="rgb(211,211,211)"/>
<rect x="386.27" y="402.40" width="12.37" height="10.25" fill="rgb(211,211,211)"/>
<rect x="398.35" y="402.40" width="12.37" height="10.25" fill="rgb(208,208,208)"/>
<rect x="410.42" y="402.40" width="12.37" height="10.25" fill="rgb(184,184,184)"/>
<rect x="422.49" y="402.40" width="12.37" height="10.25" fill="rgb(172,172,172)"/>
<rect x="434.56" y="402.40" width="12.37" height="10.25" fill="rgb(152,152,152)"/>
<rect x="446.64" y="402.40" width="12.37" height="10.25" fill="rgb(160,160,160)"/>
<rect x="458.71" y="402.40" width="12.37" height="10.25" fill="rgb(120,120,120)"/>
<rect x="470.78" y="402.40" width="12.37" height="10.25" fill="rgb(142,142,142)"/>
<rect x="482.85" y="402.40" width="12.37" height="10.25" fill="rgb(138,138,138)"/>
<rect x="494.93" y="402.40" width="12.37" height="10.25" fill="rgb(102,102,102)"/>
<rect x="374.20" y="412.35" width="12.37" height="10.25" fill="rgb(200,200,200)"/>
<rect x="386.27" y="412.35" width="12.37" height="10.25" fill="rgb(227,227,227)"/>
<rect x="398.35" y="412.35" width="12.37" height="10.25" fill="rgb(200,200,200)"/>
<rect x="410.42" y="412.35" width="12.37" height="10.25" fill="rgb(172,172,172)"/>
<rect x="422.49" y="412.35" width="12.37" height="10.25" fill="rgb(188,188,188)"/>
<rect x="434.56" y="412.35" width="12.37" height="10.25" fill="rgb(213,213,213)"/>
<rect x="446.64" y="412.35" width="12.37" height="10.25" fill="rgb(154,154,154)"/>
<rect x="458.71" y="412.35" width="12.37" height="10.25" fill="rgb(154,154,154)"/>
<rect x="470.78" y="412.35" width="12.37" height="10.25" fill="rgb(142,142,142)"/>
<rect x="482.85" y="412.35" width="12.37" height="10.25" fill="rgb(138,138,138)"/>
<rect x="494.93" y="412.35" width="12.37" height="10.25" fill="rgb(142,142,142)"/>
<rect x="374.20" y="422.30" width="12.37" height="10.25" fill="rgb(188,188,188)"/>
<rect x="386.27" y="422.30" width="12.37" height="10.25" fill="rgb(216,216,216)"/>
<rect x="398.35" y="422.30" width="12.37" height="10.25" fill="rgb(229,229,229)"/>
<rect x="410.42" y="422.30" width="12.37" height="10.25" fill="rgb(238,238,238)"/>
<rect x="422.49" y="422.30" width="12.37" height="10.25" fill="rgb(195,195,195)"/>
<rect x="434.56" y="422.30" width="12.37" height="10.25" fill="rgb(208,208,208)"/>
<rect x="446.64" y="422.30" width="12.37" height="10.25" fill="rgb(172,172,172)"/>
<rect x="458.71" y="422.30" width="12.37" height="10.25" fill="rgb(172,172,172)"/>
<rect x="470.78" y="422.30" width="12.37" height="10.25" fill="rgb(192,192,192)"/>
<rect x="482.85" y="422.30" width="12.37" height="10.25" fill="rgb(189,189,189)"/>
<rect x="494.93" y="422.30" width="12.37" height="10.25" fill="rgb(170,170,170)"/>
<rect x="374.20" y="432.25" width="12.37" height="10.25" fill="rgb(192,192,192)"/>
<rect x="386.27" y="432.25" width="12.37" height="10.25" fill="rgb(250,250,250)"/>
<rect x="398.35" y="432.25" width="12.37" height="10.25" fill="rgb(222,222,222)"/>
<rect x="410.42" y="432.25" width="12.37" height="10.25" fill="rgb(200,200,200)"/>
<rect x="422.49" y="432.25" width="12.37" height="10.25" fill="rgb(211,211,211)"/>
<rect x="434.56" y="432.25" width="12.37" height="10.25" fill="rgb(211,211,211)"/>
<rect x="446.64" y="432.25" width="12.37" height="10.25" fill="rgb(145,145,145)"/>
<rect x="458.71" y="432.25" width="12.37" height="10.25" fill="rgb(195,195,195)"/>
<rect x="470.78" y="432.25" width="12.37" height="10.25" fill="rgb(184,184,184)"/>
<rect x="482.85" y="432.25" width="12.37" height="10.25" fill="rgb(184,184,184)"/>
<rect x="494.93" y="432.25" width="12.37" height="10.25" fill="rgb(211,211,211)"/>
<line x1="370.90" y1="367.98" x2="372.90" y2="367.98" stroke="#555" stroke-width="0.8" />
<text x="367.80" y="370.68" font-size="7.5" fill="#2c2c2c" text-anchor="end" textLength="14.40" lengthAdjust="spacingAndGlyphs" stroke="#2c2c2c" stroke-width="0.1">1.00</text>
<line x1="370.90" y1="377.93" x2="372.90" y2="377.93" stroke="#555" stroke-width="0.8" />
<text x="367.80" y="380.62" font-size="7.5" fill="#2c2c2c" text-anchor="end" textLength="14.40" lengthAdjust="spacingAndGlyphs" stroke="#2c2c2c" stroke-width="0.1">1.12</text>
<line x1="370.90" y1="387.88" x2="372.90" y2="387.88" stroke="#555" stroke-width="0.8" />
<text x="367.80" y="390.57" font-size="7.5" fill="#2c2c2c" text-anchor="end" textLength="14.40" lengthAdjust="spacingAndGlyphs" stroke="#2c2c2c" stroke-width="0.1">1.25</text>
<line x1="370.90" y1="397.82" x2="372.90" y2="397.82" stroke="#555" stroke-width="0.8" />
<text x="367.80" y="400.52" font-size="7.5" fill="#2c2c2c" text-anchor="end" textLength="14.40" lengthAdjust="spacingAndGlyphs" stroke="#2c2c2c" stroke-width="0.1">1.43</text>
<line x1="370.90" y1="407.77" x2="372.90" y2="407.77" stroke="#555" stroke-width="0.8" />
<text x="367.80" y="410.47" font-size="7.5" fill="#2c2c2c" text-anchor="end" textLength="14.40" lengthAdjust="spacingAndGlyphs" stroke="#2c2c2c" stroke-width="0.1">1.67</text>
<line x1="370.90" y1="417.72" x2="372.90" y2="417.72" stroke="#555" stroke-width="0.8" />
<text x="367.80" y="420.42" font-size="7.5" fill="#2c2c2c" text-anchor="end" textLength="14.40" lengthAdjust="spacingAndGlyphs" stroke="#2c2c2c" stroke-width="0.1">2.00</text>
<line x1="370.90" y1="427.67" x2="372.90" y2="427.67" stroke="#555" stroke-width="0.8" />
<text x="367.80" y="430.37" font-size="7.5" fill="#2c2c2c" text-anchor="end" textLength="14.40" lengthAdjust="spacingAndGlyphs" stroke="#2c2c2c" stroke-width="0.1">2.50</text>
<line x1="370.90" y1="437.62" x2="372.90" y2="437.62" stroke="#555" stroke-width="0.8" />
<text x="367.80" y="440.32" font-size="7.5" fill="#2c2c2c" text-anchor="end" textLength="14.40" lengthAdjust="spacingAndGlyphs" stroke="#2c2c2c" stroke-width="0.1">3.33</text>
<line x1="380.24" y1="443.80" x2="380.24" y2="445.40" stroke="#555" stroke-width="0.8" />
<text x="380.24" y="454.90" font-size="7.5" fill="#2c2c2c" text-anchor="middle" stroke="#2c2c2c" stroke-width="0.1">1</text>
<line x1="392.31" y1="443.80" x2="392.31" y2="445.40" stroke="#555" stroke-width="0.8" />
<text x="392.31" y="454.90" font-size="7.5" fill="#2c2c2c" text-anchor="middle" stroke="#2c2c2c" stroke-width="0.1">2</text>
<line x1="404.38" y1="443.80" x2="404.38" y2="445.40" stroke="#555" stroke-width="0.8" />
<text x="404.38" y="454.90" font-size="7.5" fill="#2c2c2c" text-anchor="middle" stroke="#2c2c2c" stroke-width="0.1">3</text>
<line x1="416.45" y1="443.80" x2="416.45" y2="445.40" stroke="#555" stroke-width="0.8" />
<text x="416.45" y="454.90" font-size="7.5" fill="#2c2c2c" text-anchor="middle" stroke="#2c2c2c" stroke-width="0.1">4</text>
<line x1="428.53" y1="443.80" x2="428.53" y2="445.40" stroke="#555" stroke-width="0.8" />
<text x="428.53" y="454.90" font-size="7.5" fill="#2c2c2c" text-anchor="middle" stroke="#2c2c2c" stroke-width="0.1">5</text>
<line x1="440.60" y1="443.80" x2="440.60" y2="445.40" stroke="#555" stroke-width="0.8" />
<text x="440.60" y="454.90" font-size="7.5" fill="#2c2c2c" text-anchor="middle" stroke="#2c2c2c" stroke-width="0.1">6</text>
<line x1="452.67" y1="443.80" x2="452.67" y2="445.40" stroke="#555" stroke-width="0.8" />
<text x="452.67" y="454.90" font-size="7.5" fill="#2c2c2c" text-anchor="middle" stroke="#2c2c2c" stroke-width="0.1">7</text>
<line x1="464.75" y1="443.80" x2="464.75" y2="445.40" stroke="#555" stroke-width="0.8" />
<text x="464.75" y="454.90" font-size="7.5" fill="#2c2c2c" text-anchor="middle" stroke="#2c2c2c" stroke-width="0.1">8</text>
<line x1="476.82" y1="443.80" x2="476.82" y2="445.40" stroke="#555" stroke-width="0.8" />
<text x="476.82" y="454.90" font-size="7.5" fill="#2c2c2c" text-anchor="middle" stroke="#2c2c2c" stroke-width="0.1">9</text>
<line x1="488.89" y1="443.80" x2="488.89" y2="445.40" stroke="#555" stroke-width="0.8" />
<text x="488.89" y="454.90" font-size="7.5" fill="#2c2c2c" text-anchor="middle" textLength="7.30" lengthAdjust="spacingAndGlyphs" stroke="#2c2c2c" stroke-width="0.1">10</text>
<line x1="500.96" y1="443.80" x2="500.96" y2="445.40" stroke="#555" stroke-width="0.8" />
<text x="500.96" y="454.90" font-size="7.5" fill="#2c2c2c" text-anchor="middle" textLength="5.80" lengthAdjust="spacingAndGlyphs" stroke="#2c2c2c" stroke-width="0.1">11</text>
<text x="442.60" y="468.69" font-size="8.3" fill="#262626" text-anchor="middle" textLength="45.80" lengthAdjust="spacingAndGlyphs" stroke="#262626" stroke-width="0.2">Time (days)</text>
<text transform="translate(346.4 396.6) rotate(-90)" font-size="8.3" fill="#262626" text-anchor="middle" textLength="18" lengthAdjust="spacingAndGlyphs" stroke="#262626" stroke-width="0.2">× HA</text>
<text x="472.00" y="346.59" font-size="8.3" fill="#262626" text-anchor="middle" font-style="italic" textLength="22.38" lengthAdjust="spacingAndGlyphs" stroke="#262626" stroke-width="0.2">PSBR</text>
<rect x="457.4" y="350.0" width="26.600000000000023" height="7.600000000000023" fill="url(#gGray)"/>
<text x="455.60" y="355.70" font-size="7.5" fill="#2c2c2c" text-anchor="end" textLength="20.40" lengthAdjust="spacingAndGlyphs" stroke="#2c2c2c" stroke-width="0.1">2,000</text>
<text x="486.40" y="355.70" font-size="7.5" fill="#2c2c2c" textLength="20.40" lengthAdjust="spacingAndGlyphs" stroke="#2c2c2c" stroke-width="0.1">4,000</text>
<text x="532.0" y="9.3" font-size="13" font-weight="bold" fill="#111">f</text>
<rect x="568.40" y="21.40" width="115.80" height="102.60" fill="none" stroke="#8c8c8c" stroke-width="1.0" />
<line x1="565.40" y1="106.80" x2="568.40" y2="106.80" stroke="#8c8c8c" stroke-width="0.8" />
<text x="562.80" y="109.50" font-size="7.5" fill="#2c2c2c" text-anchor="end" stroke="#2c2c2c" stroke-width="0.1">50</text>
<line x1="565.40" y1="85.20" x2="568.40" y2="85.20" stroke="#8c8c8c" stroke-width="0.8" />
<text x="562.80" y="87.90" font-size="7.5" fill="#2c2c2c" text-anchor="end" stroke="#2c2c2c" stroke-width="0.1">100</text>
<line x1="565.40" y1="63.60" x2="568.40" y2="63.60" stroke="#8c8c8c" stroke-width="0.8" />
<text x="562.80" y="66.30" font-size="7.5" fill="#2c2c2c" text-anchor="end" stroke="#2c2c2c" stroke-width="0.1">150</text>
<line x1="565.40" y1="42.00" x2="568.40" y2="42.00" stroke="#8c8c8c" stroke-width="0.8" />
<text x="562.80" y="44.70" font-size="7.5" fill="#2c2c2c" text-anchor="end" stroke="#2c2c2c" stroke-width="0.1">200</text>
<line x1="587.00" y1="124.00" x2="587.00" y2="126.60" stroke="#8c8c8c" stroke-width="0.8" />
<text x="587.00" y="136.30" font-size="7.5" fill="#2c2c2c" text-anchor="middle" stroke="#2c2c2c" stroke-width="0.1">−0.5</text>
<line x1="612.00" y1="124.00" x2="612.00" y2="126.60" stroke="#8c8c8c" stroke-width="0.8" />
<text x="612.00" y="136.30" font-size="7.5" fill="#2c2c2c" text-anchor="middle" stroke="#2c2c2c" stroke-width="0.1">0</text>
<line x1="637.00" y1="124.00" x2="637.00" y2="126.60" stroke="#8c8c8c" stroke-width="0.8" />
<text x="637.00" y="136.30" font-size="7.5" fill="#2c2c2c" text-anchor="middle" stroke="#2c2c2c" stroke-width="0.1">0.5</text>
<line x1="662.00" y1="124.00" x2="662.00" y2="126.60" stroke="#8c8c8c" stroke-width="0.8" />
<text x="662.00" y="136.30" font-size="7.5" fill="#2c2c2c" text-anchor="middle" stroke="#2c2c2c" stroke-width="0.1">1.0</text>
<text x="626.50" y="149.69" font-size="8.3" fill="#262626" text-anchor="middle" textLength="63.2" lengthAdjust="spacingAndGlyphs" stroke="#262626" stroke-width="0.2">Average <tspan font-style="italic">z</tspan>-score</text>
<text transform="translate(539.6 72.5) rotate(-90)" font-size="8.3" fill="#262626" text-anchor="middle" textLength="70" lengthAdjust="spacingAndGlyphs" stroke="#262626" stroke-width="0.2">Shoot area (mm<tspan font-size="5.4" dy="-2.9">2</tspan><tspan dy="2.9">)</tspan></text>
<circle cx="581.70" cy="25.70" r="2.9" fill="#3b4aa6"/>
<circle cx="579.10" cy="35.00" r="2.9" fill="#3b4aa6"/>
<circle cx="585.60" cy="33.40" r="2.9" fill="#3a62ba"/>
<circle cx="585.10" cy="39.70" r="2.9" fill="#4a43a3"/>
<circle cx="584.70" cy="42.80" r="2.9" fill="#3a62ba"/>
<circle cx="578.30" cy="44.60" r="2.9" fill="#3b4aa6"/>
<circle cx="597.90" cy="45.10" r="2.9" fill="#4a43a3"/>
<circle cx="581.60" cy="50.30" r="2.9" fill="#3a62ba"/>
<circle cx="605.30" cy="52.10" r="2.9" fill="#6c2a86"/>
<circle cx="615.50" cy="53.30" r="2.9" fill="#8a1c62"/>
<circle cx="620.20" cy="56.20" r="2.9" fill="#8a1c62"/>
<circle cx="609.30" cy="58.00" r="2.9" fill="#8a1c62"/>
<circle cx="584.30" cy="58.90" r="2.9" fill="#3a62ba"/>
<circle cx="591.20" cy="58.70" r="2.9" fill="#4a43a3"/>
<circle cx="595.60" cy="54.80" r="2.9" fill="#6c2a86"/>
<circle cx="599.70" cy="58.00" r="2.9" fill="#4a43a3"/>
<circle cx="597.50" cy="58.80" r="2.9" fill="#8a1c62"/>
<circle cx="605.00" cy="65.30" r="2.9" fill="#6c2a86"/>
<circle cx="578.10" cy="68.50" r="2.9" fill="#3b4aa6"/>
<circle cx="585.10" cy="67.90" r="2.9" fill="#4a43a3"/>
<circle cx="584.60" cy="73.80" r="2.9" fill="#4a43a3"/>
<circle cx="604.50" cy="71.30" r="2.9" fill="#6c2a86"/>
<circle cx="603.00" cy="76.60" r="2.9" fill="#8a1c62"/>
<circle cx="612.30" cy="75.00" r="2.9" fill="#6c2a86"/>
<circle cx="620.70" cy="75.00" r="2.9" fill="#8a1c62"/>
<circle cx="633.20" cy="75.00" r="2.9" fill="#c81f48"/>
<circle cx="641.70" cy="76.80" r="2.9" fill="#e8232f"/>
<circle cx="626.30" cy="80.80" r="2.9" fill="#8a1c62"/>
<circle cx="646.50" cy="82.70" r="2.9" fill="#c81f48"/>
<circle cx="584.70" cy="81.90" r="2.9" fill="#3a62ba"/>
<circle cx="594.80" cy="78.80" r="2.9" fill="#3a62ba"/>
<circle cx="597.10" cy="80.80" r="2.9" fill="#3a62ba"/>
<circle cx="634.70" cy="86.90" r="2.9" fill="#c81f48"/>
<circle cx="591.30" cy="89.00" r="2.9" fill="#3b4aa6"/>
<circle cx="595.70" cy="88.70" r="2.9" fill="#4a43a3"/>
<circle cx="600.90" cy="87.50" r="2.9" fill="#3a62ba"/>
<circle cx="608.40" cy="91.80" r="2.9" fill="#6c2a86"/>
<circle cx="613.20" cy="90.80" r="2.9" fill="#6c2a86"/>
<circle cx="618.40" cy="90.80" r="2.9" fill="#5b3797"/>
<circle cx="585.70" cy="94.30" r="2.9" fill="#3a62ba"/>
<circle cx="602.10" cy="94.80" r="2.9" fill="#3b4aa6"/>
<circle cx="626.30" cy="94.90" r="2.9" fill="#e8232f"/>
<circle cx="626.70" cy="97.20" r="2.9" fill="#c81f48"/>
<circle cx="638.20" cy="93.70" r="2.9" fill="#8a1c62"/>
<circle cx="657.90" cy="91.80" r="2.9" fill="#e8232f"/>
<circle cx="657.50" cy="97.50" r="2.9" fill="#e8232f"/>
<circle cx="679.80" cy="99.80" r="2.9" fill="#e8232f"/>
<circle cx="583.00" cy="103.70" r="2.9" fill="#3b4aa6"/>
<circle cx="586.40" cy="106.30" r="2.9" fill="#3a62ba"/>
<circle cx="590.00" cy="107.20" r="2.9" fill="#6c2a86"/>
<circle cx="596.00" cy="100.70" r="2.9" fill="#5b3797"/>
<circle cx="601.40" cy="104.50" r="2.9" fill="#3a62ba"/>
<circle cx="610.20" cy="102.40" r="2.9" fill="#3b4aa6"/>
<circle cx="614.90" cy="102.80" r="2.9" fill="#6c2a86"/>
<circle cx="621.10" cy="101.00" r="2.9" fill="#8a1c62"/>
<circle cx="622.50" cy="102.40" r="2.9" fill="#8a1c62"/>
<circle cx="637.40" cy="102.40" r="2.9" fill="#e8232f"/>
<circle cx="643.30" cy="102.40" r="2.9" fill="#e8232f"/>
<circle cx="636.00" cy="107.20" r="2.9" fill="#8a1c62"/>
<circle cx="641.20" cy="107.20" r="2.9" fill="#c81f48"/>
<circle cx="645.60" cy="108.60" r="2.9" fill="#8a1c62"/>
<circle cx="656.10" cy="107.20" r="2.9" fill="#e8232f"/>
<circle cx="673.10" cy="108.60" r="2.9" fill="#e8232f"/>
<circle cx="596.50" cy="109.40" r="2.9" fill="#4a43a3"/>
<circle cx="573.40" cy="113.70" r="2.9" fill="#3b4aa6"/>
<circle cx="582.50" cy="113.70" r="2.9" fill="#4a43a3"/>
<circle cx="586.00" cy="114.70" r="2.9" fill="#3a62ba"/>
<circle cx="590.40" cy="114.20" r="2.9" fill="#6c2a86"/>
<circle cx="595.70" cy="114.20" r="2.9" fill="#4a43a3"/>
<circle cx="601.40" cy="114.70" r="2.9" fill="#3b4aa6"/>
<circle cx="607.00" cy="113.00" r="2.9" fill="#8a1c62"/>
<circle cx="608.80" cy="115.10" r="2.9" fill="#6c2a86"/>
<circle cx="607.00" cy="116.80" r="2.9" fill="#8a1c62"/>
<circle cx="610.50" cy="116.50" r="2.9" fill="#3a62ba"/>
<circle cx="620.20" cy="112.40" r="2.9" fill="#6c2a86"/>
<circle cx="638.20" cy="111.60" r="2.9" fill="#8a1c62"/>
<circle cx="640.90" cy="114.20" r="2.9" fill="#c81f48"/>
<circle cx="614.90" cy="119.40" r="2.9" fill="#e8232f"/>
<circle cx="624.60" cy="117.70" r="2.9" fill="#e8232f"/>
<circle cx="630.30" cy="116.80" r="2.9" fill="#e8232f"/>
<circle cx="656.10" cy="115.90" r="2.9" fill="#e8232f"/>
<circle cx="662.20" cy="118.90" r="2.9" fill="#e8232f"/>
<text x="643.4" y="44.00" font-size="8.3" fill="#262626" textLength="35.0" lengthAdjust="spacingAndGlyphs" stroke="#262626" stroke-width="0.2"><tspan font-style="italic">R</tspan> = −0.41</text>
<text x="604.60" y="30.94" font-size="7.6" fill="#262626" textLength="16.40" lengthAdjust="spacingAndGlyphs" stroke="#262626" stroke-width="0.1">×HA</text>
<text x="624.40" y="30.86" font-size="7.4" fill="#262626" stroke="#262626" stroke-width="0.1">1.00</text>
<rect x="641.1" y="24.8" width="23.9" height="6.4" fill="url(#gHA)"/>
<text x="665.90" y="30.86" font-size="7.4" fill="#262626" textLength="14.60" lengthAdjust="spacingAndGlyphs" stroke="#262626" stroke-width="0.1">3.33</text>
<text x="532.0" y="170.0" font-size="13" font-weight="bold" fill="#111">i</text>
<rect x="568.50" y="189.30" width="114.80" height="98.00" fill="none" stroke="#8c8c8c" stroke-width="1.0" />
<line x1="565.50" y1="271.20" x2="568.50" y2="271.20" stroke="#8c8c8c" stroke-width="0.8" />
<text x="562.90" y="273.90" font-size="7.5" fill="#2c2c2c" text-anchor="end" stroke="#2c2c2c" stroke-width="0.1">50</text>
<line x1="565.50" y1="250.60" x2="568.50" y2="250.60" stroke="#8c8c8c" stroke-width="0.8" />
<text x="562.90" y="253.30" font-size="7.5" fill="#2c2c2c" text-anchor="end" stroke="#2c2c2c" stroke-width="0.1">100</text>
<line x1="565.50" y1="230.00" x2="568.50" y2="230.00" stroke="#8c8c8c" stroke-width="0.8" />
<text x="562.90" y="232.70" font-size="7.5" fill="#2c2c2c" text-anchor="end" stroke="#2c2c2c" stroke-width="0.1">150</text>
<line x1="565.50" y1="209.40" x2="568.50" y2="209.40" stroke="#8c8c8c" stroke-width="0.8" />
<text x="562.90" y="212.10" font-size="7.5" fill="#2c2c2c" text-anchor="end" stroke="#2c2c2c" stroke-width="0.1">200</text>
<line x1="575.60" y1="287.30" x2="575.60" y2="289.90" stroke="#8c8c8c" stroke-width="0.8" />
<text x="575.60" y="299.10" font-size="7.5" fill="#2c2c2c" text-anchor="middle" textLength="13.30" lengthAdjust="spacingAndGlyphs" stroke="#2c2c2c" stroke-width="0.1">−1.0</text>
<line x1="600.10" y1="287.30" x2="600.10" y2="289.90" stroke="#8c8c8c" stroke-width="0.8" />
<text x="600.10" y="299.10" font-size="7.5" fill="#2c2c2c" text-anchor="middle" stroke="#2c2c2c" stroke-width="0.1">−0.5</text>
<line x1="624.60" y1="287.30" x2="624.60" y2="289.90" stroke="#8c8c8c" stroke-width="0.8" />
<text x="624.60" y="299.10" font-size="7.5" fill="#2c2c2c" text-anchor="middle" stroke="#2c2c2c" stroke-width="0.1">0</text>
<line x1="649.10" y1="287.30" x2="649.10" y2="289.90" stroke="#8c8c8c" stroke-width="0.8" />
<text x="649.10" y="299.10" font-size="7.5" fill="#2c2c2c" text-anchor="middle" stroke="#2c2c2c" stroke-width="0.1">0.5</text>
<line x1="673.60" y1="287.30" x2="673.60" y2="289.90" stroke="#8c8c8c" stroke-width="0.8" />
<text x="673.60" y="299.10" font-size="7.5" fill="#2c2c2c" text-anchor="middle" stroke="#2c2c2c" stroke-width="0.1">1.0</text>
<text x="624.70" y="313.69" font-size="8.3" fill="#262626" text-anchor="middle" textLength="63.2" lengthAdjust="spacingAndGlyphs" stroke="#262626" stroke-width="0.2">Average <tspan font-style="italic">z</tspan>-score</text>
<text transform="translate(539.6 237.9) rotate(-90)" font-size="8.3" fill="#262626" text-anchor="middle" textLength="70" lengthAdjust="spacingAndGlyphs" stroke="#262626" stroke-width="0.2">Shoot area (mm<tspan font-size="5.4" dy="-2.9">2</tspan><tspan dy="2.9">)</tspan></text>
<circle cx="623.30" cy="193.90" r="2.9" fill="#3a62ba"/>
<circle cx="603.20" cy="201.20" r="2.9" fill="#3a62ba"/>
<circle cx="628.60" cy="202.60" r="2.9" fill="#3a62ba"/>
<circle cx="626.70" cy="207.40" r="2.9" fill="#4a43a3"/>
<circle cx="621.10" cy="209.70" r="2.9" fill="#3a62ba"/>
<circle cx="614.60" cy="212.30" r="2.9" fill="#3b4aa6"/>
<circle cx="636.30" cy="212.60" r="2.9" fill="#4a43a3"/>
<circle cx="596.20" cy="217.50" r="2.9" fill="#3a62ba"/>
<circle cx="645.20" cy="221.90" r="2.9" fill="#5b3797"/>
<circle cx="651.70" cy="218.90" r="2.9" fill="#6c2a86"/>
<circle cx="656.60" cy="224.90" r="2.9" fill="#c81f48"/>
<circle cx="668.70" cy="220.20" r="2.9" fill="#8a1c62"/>
<circle cx="672.20" cy="222.80" r="2.9" fill="#8a1c62"/>
<circle cx="668.70" cy="224.90" r="2.9" fill="#6c2a86"/>
<circle cx="603.50" cy="225.80" r="2.9" fill="#3a62ba"/>
<circle cx="623.30" cy="224.90" r="2.9" fill="#3a62ba"/>
<circle cx="626.30" cy="225.80" r="2.9" fill="#4a43a3"/>
<circle cx="615.50" cy="233.30" r="2.9" fill="#4a43a3"/>
<circle cx="617.00" cy="234.50" r="2.9" fill="#4a43a3"/>
<circle cx="624.00" cy="239.40" r="2.9" fill="#4a43a3"/>
<circle cx="650.80" cy="231.90" r="2.9" fill="#5b3797"/>
<circle cx="656.60" cy="237.30" r="2.9" fill="#6c2a86"/>
<circle cx="636.00" cy="238.60" r="2.9" fill="#5b3797"/>
<circle cx="640.90" cy="236.80" r="2.9" fill="#5b3797"/>
<circle cx="643.80" cy="242.00" r="2.9" fill="#6c2a86"/>
<circle cx="647.30" cy="240.80" r="2.9" fill="#6c2a86"/>
<circle cx="666.10" cy="240.80" r="2.9" fill="#8a1c62"/>
<circle cx="673.60" cy="242.40" r="2.9" fill="#e8232f"/>
<circle cx="677.10" cy="240.70" r="2.9" fill="#c81f48"/>
<circle cx="590.40" cy="246.30" r="2.9" fill="#3a62ba"/>
<circle cx="601.40" cy="246.80" r="2.9" fill="#3a62ba"/>
<circle cx="615.80" cy="244.40" r="2.9" fill="#3b4aa6"/>
<circle cx="671.00" cy="245.60" r="2.9" fill="#8a1c62"/>
<circle cx="585.70" cy="252.60" r="2.9" fill="#3a62ba"/>
<circle cx="590.80" cy="254.40" r="2.9" fill="#3a62ba"/>
<circle cx="588.10" cy="259.30" r="2.9" fill="#3b4aa6"/>
<circle cx="610.90" cy="254.00" r="2.9" fill="#4a43a3"/>
<circle cx="603.50" cy="260.10" r="2.9" fill="#4a43a3"/>
<circle cx="608.80" cy="264.90" r="2.9" fill="#6c2a86"/>
<circle cx="613.70" cy="266.60" r="2.9" fill="#6c2a86"/>
<circle cx="599.70" cy="267.20" r="2.9" fill="#4a43a3"/>
<circle cx="620.70" cy="267.20" r="2.9" fill="#6c2a86"/>
<circle cx="626.00" cy="258.70" r="2.9" fill="#8a1c62"/>
<circle cx="630.20" cy="255.80" r="2.9" fill="#5b3797"/>
<circle cx="634.60" cy="255.80" r="2.9" fill="#5b3797"/>
<circle cx="646.50" cy="257.00" r="2.9" fill="#6c2a86"/>
<circle cx="638.20" cy="261.90" r="2.9" fill="#8a1c62"/>
<circle cx="636.50" cy="266.30" r="2.9" fill="#8a1c62"/>
<circle cx="628.60" cy="264.90" r="2.9" fill="#6c2a86"/>
<circle cx="643.30" cy="266.60" r="2.9" fill="#c81f48"/>
<circle cx="574.60" cy="270.70" r="2.9" fill="#3a62ba"/>
<circle cx="586.00" cy="268.40" r="2.9" fill="#3a62ba"/>
<circle cx="588.10" cy="268.90" r="2.9" fill="#3a62ba"/>
<circle cx="595.70" cy="271.50" r="2.9" fill="#4a43a3"/>
<circle cx="587.20" cy="274.20" r="2.9" fill="#4a43a3"/>
<circle cx="573.20" cy="278.20" r="2.9" fill="#3a62ba"/>
<circle cx="577.60" cy="277.70" r="2.9" fill="#3a62ba"/>
<circle cx="580.80" cy="278.00" r="2.9" fill="#4a43a3"/>
<circle cx="587.20" cy="276.80" r="2.9" fill="#6c2a86"/>
<circle cx="589.50" cy="280.00" r="2.9" fill="#6c2a86"/>
<circle cx="593.00" cy="278.50" r="2.9" fill="#4a43a3"/>
<circle cx="596.50" cy="278.50" r="2.9" fill="#8a1c62"/>
<circle cx="606.20" cy="276.40" r="2.9" fill="#6c2a86"/>
<circle cx="605.60" cy="282.00" r="2.9" fill="#e8232f"/>
<circle cx="610.20" cy="280.30" r="2.9" fill="#e8232f"/>
<circle cx="618.40" cy="275.90" r="2.9" fill="#8a1c62"/>
<circle cx="620.20" cy="277.70" r="2.9" fill="#e8232f"/>
<circle cx="627.70" cy="269.80" r="2.9" fill="#c81f48"/>
<circle cx="629.00" cy="272.40" r="2.9" fill="#c81f48"/>
<circle cx="631.60" cy="282.40" r="2.9" fill="#e8232f"/>
<circle cx="640.30" cy="272.40" r="2.9" fill="#e8232f"/>
<circle cx="646.50" cy="273.30" r="2.9" fill="#e8232f"/>
<circle cx="642.10" cy="279.40" r="2.9" fill="#e8232f"/>
<circle cx="657.90" cy="252.30" r="2.9" fill="#c81f48"/>
<circle cx="660.10" cy="260.10" r="2.9" fill="#c81f48"/>
<circle cx="666.60" cy="257.00" r="2.9" fill="#e8232f"/>
<circle cx="667.50" cy="264.20" r="2.9" fill="#e8232f"/>
<circle cx="662.80" cy="267.20" r="2.9" fill="#e8232f"/>
<circle cx="664.00" cy="272.80" r="2.9" fill="#e8232f"/>
<circle cx="671.00" cy="271.20" r="2.9" fill="#e8232f"/>
<circle cx="678.00" cy="261.90" r="2.9" fill="#e8232f"/>
<circle cx="670.10" cy="247.90" r="2.9" fill="#c81f48"/>
<text x="643.0" y="202.60" font-size="8.3" fill="#262626" textLength="32.0" lengthAdjust="spacingAndGlyphs" stroke="#262626" stroke-width="0.2"><tspan font-style="italic">R</tspan> = 0.32</text>
<text x="532.0" y="339.6" font-size="13" font-weight="bold" fill="#111">l</text>
<rect x="568.40" y="342.50" width="113.20" height="100.20" fill="none" stroke="#8c8c8c" stroke-width="1.0" />
<line x1="565.40" y1="426.30" x2="568.40" y2="426.30" stroke="#8c8c8c" stroke-width="0.8" />
<text x="562.80" y="429.00" font-size="7.5" fill="#2c2c2c" text-anchor="end" stroke="#2c2c2c" stroke-width="0.1">50</text>
<line x1="565.40" y1="405.00" x2="568.40" y2="405.00" stroke="#8c8c8c" stroke-width="0.8" />
<text x="562.80" y="407.70" font-size="7.5" fill="#2c2c2c" text-anchor="end" stroke="#2c2c2c" stroke-width="0.1">100</text>
<line x1="565.40" y1="383.70" x2="568.40" y2="383.70" stroke="#8c8c8c" stroke-width="0.8" />
<text x="562.80" y="386.40" font-size="7.5" fill="#2c2c2c" text-anchor="end" stroke="#2c2c2c" stroke-width="0.1">150</text>
<line x1="565.40" y1="362.40" x2="568.40" y2="362.40" stroke="#8c8c8c" stroke-width="0.8" />
<text x="562.80" y="365.10" font-size="7.5" fill="#2c2c2c" text-anchor="end" stroke="#2c2c2c" stroke-width="0.1">200</text>
<line x1="583.00" y1="442.70" x2="583.00" y2="445.30" stroke="#8c8c8c" stroke-width="0.8" />
<text x="583.00" y="454.30" font-size="7.5" fill="#2c2c2c" text-anchor="middle" textLength="13.30" lengthAdjust="spacingAndGlyphs" stroke="#2c2c2c" stroke-width="0.1">−1.0</text>
<line x1="602.30" y1="442.70" x2="602.30" y2="445.30" stroke="#8c8c8c" stroke-width="0.8" />
<text x="602.30" y="454.30" font-size="7.5" fill="#2c2c2c" text-anchor="middle" stroke="#2c2c2c" stroke-width="0.1">−0.5</text>
<line x1="621.60" y1="442.70" x2="621.60" y2="445.30" stroke="#8c8c8c" stroke-width="0.8" />
<text x="621.60" y="454.30" font-size="7.5" fill="#2c2c2c" text-anchor="middle" stroke="#2c2c2c" stroke-width="0.1">0</text>
<line x1="640.90" y1="442.70" x2="640.90" y2="445.30" stroke="#8c8c8c" stroke-width="0.8" />
<text x="640.90" y="454.30" font-size="7.5" fill="#2c2c2c" text-anchor="middle" stroke="#2c2c2c" stroke-width="0.1">0.5</text>
<line x1="660.20" y1="442.70" x2="660.20" y2="445.30" stroke="#8c8c8c" stroke-width="0.8" />
<text x="660.20" y="454.30" font-size="7.5" fill="#2c2c2c" text-anchor="middle" stroke="#2c2c2c" stroke-width="0.1">1.0</text>
<line x1="679.50" y1="442.70" x2="679.50" y2="445.30" stroke="#8c8c8c" stroke-width="0.8" />
<text x="679.50" y="454.30" font-size="7.5" fill="#2c2c2c" text-anchor="middle" stroke="#2c2c2c" stroke-width="0.1">1.5</text>
<text x="623.70" y="468.69" font-size="8.3" fill="#262626" text-anchor="middle" textLength="63.2" lengthAdjust="spacingAndGlyphs" stroke="#262626" stroke-width="0.2">Average <tspan font-style="italic">z</tspan>-score</text>
<text transform="translate(539.6 389.0) rotate(-90)" font-size="8.3" fill="#262626" text-anchor="middle" textLength="70" lengthAdjust="spacingAndGlyphs" stroke="#262626" stroke-width="0.2">Shoot area (mm<tspan font-size="5.4" dy="-2.9">2</tspan><tspan dy="2.9">)</tspan></text>
<circle cx="675.90" cy="346.70" r="2.9" fill="#3b4aa6"/>
<circle cx="676.60" cy="355.80" r="2.9" fill="#3b4aa6"/>
<circle cx="660.00" cy="354.00" r="2.9" fill="#3a62ba"/>
<circle cx="665.40" cy="360.70" r="2.9" fill="#4a43a3"/>
<circle cx="663.50" cy="363.10" r="2.9" fill="#3a62ba"/>
<circle cx="658.40" cy="365.90" r="2.9" fill="#4a43a3"/>
<circle cx="672.40" cy="365.80" r="2.9" fill="#3b4aa6"/>
<circle cx="657.50" cy="371.00" r="2.9" fill="#3a62ba"/>
<circle cx="641.20" cy="372.40" r="2.9" fill="#5b3797"/>
<circle cx="634.60" cy="373.60" r="2.9" fill="#8a1c62"/>
<circle cx="633.30" cy="376.30" r="2.9" fill="#8a1c62"/>
<circle cx="633.00" cy="378.50" r="2.9" fill="#8a1c62"/>
<circle cx="654.30" cy="375.40" r="2.9" fill="#6c2a86"/>
<circle cx="651.70" cy="378.50" r="2.9" fill="#3a62ba"/>
<circle cx="658.40" cy="379.40" r="2.9" fill="#3a62ba"/>
<circle cx="663.50" cy="378.90" r="2.9" fill="#8a1c62"/>
<circle cx="670.50" cy="379.10" r="2.9" fill="#4a43a3"/>
<circle cx="648.70" cy="385.50" r="2.9" fill="#6c2a86"/>
<circle cx="657.30" cy="387.70" r="2.9" fill="#4a43a3"/>
<circle cx="664.90" cy="388.50" r="2.9" fill="#3a62ba"/>
<circle cx="644.70" cy="390.80" r="2.9" fill="#6c2a86"/>
<circle cx="649.60" cy="391.30" r="2.9" fill="#8a1c62"/>
<circle cx="663.50" cy="393.10" r="2.9" fill="#4a43a3"/>
<circle cx="634.70" cy="392.90" r="2.9" fill="#4a43a3"/>
<circle cx="627.20" cy="395.20" r="2.9" fill="#6c2a86"/>
<circle cx="630.20" cy="395.20" r="2.9" fill="#8a1c62"/>
<circle cx="617.60" cy="394.80" r="2.9" fill="#c81f48"/>
<circle cx="600.40" cy="396.60" r="2.9" fill="#e8232f"/>
<circle cx="644.20" cy="396.60" r="2.9" fill="#6c2a86"/>
<circle cx="661.90" cy="398.30" r="2.9" fill="#3a62ba"/>
<circle cx="620.70" cy="400.30" r="2.9" fill="#8a1c62"/>
<circle cx="627.20" cy="400.60" r="2.9" fill="#3a62ba"/>
<circle cx="653.50" cy="401.70" r="2.9" fill="#3a62ba"/>
<circle cx="606.70" cy="402.40" r="2.9" fill="#e8232f"/>
<circle cx="607.00" cy="406.90" r="2.9" fill="#e8232f"/>
<circle cx="618.40" cy="407.60" r="2.9" fill="#3a62ba"/>
<circle cx="622.50" cy="408.70" r="2.9" fill="#4a43a3"/>
<circle cx="621.10" cy="410.80" r="2.9" fill="#6c2a86"/>
<circle cx="626.30" cy="411.10" r="2.9" fill="#8a1c62"/>
<circle cx="628.40" cy="410.80" r="2.9" fill="#6c2a86"/>
<circle cx="633.30" cy="408.70" r="2.9" fill="#4a43a3"/>
<circle cx="628.10" cy="413.90" r="2.9" fill="#3a62ba"/>
<circle cx="620.70" cy="414.30" r="2.9" fill="#4a43a3"/>
<circle cx="596.50" cy="411.60" r="2.9" fill="#e8232f"/>
<circle cx="592.50" cy="413.00" r="2.9" fill="#6c2a86"/>
<circle cx="593.00" cy="416.40" r="2.9" fill="#e8232f"/>
<circle cx="580.80" cy="419.20" r="2.9" fill="#e8232f"/>
<circle cx="610.90" cy="415.10" r="2.9" fill="#c81f48"/>
<circle cx="606.50" cy="416.90" r="2.9" fill="#8a1c62"/>
<circle cx="600.00" cy="422.20" r="2.9" fill="#e8232f"/>
<circle cx="605.00" cy="421.30" r="2.9" fill="#4a43a3"/>
<circle cx="607.40" cy="421.60" r="2.9" fill="#e8232f"/>
<circle cx="611.30" cy="422.50" r="2.9" fill="#3a62ba"/>
<circle cx="613.00" cy="425.30" r="2.9" fill="#3a62ba"/>
<circle cx="618.40" cy="419.90" r="2.9" fill="#6c2a86"/>
<circle cx="630.20" cy="420.40" r="2.9" fill="#6c2a86"/>
<circle cx="630.70" cy="423.00" r="2.9" fill="#3a62ba"/>
<circle cx="620.20" cy="426.50" r="2.9" fill="#6c2a86"/>
<circle cx="612.40" cy="428.70" r="2.9" fill="#3a62ba"/>
<circle cx="589.00" cy="424.80" r="2.9" fill="#e8232f"/>
<circle cx="587.80" cy="426.50" r="2.9" fill="#e8232f"/>
<circle cx="580.80" cy="428.00" r="2.9" fill="#e8232f"/>
<circle cx="584.80" cy="428.00" r="2.9" fill="#e8232f"/>
<circle cx="590.00" cy="427.40" r="2.9" fill="#e8232f"/>
<circle cx="597.40" cy="427.40" r="2.9" fill="#8a1c62"/>
<circle cx="596.50" cy="429.20" r="2.9" fill="#e8232f"/>
<circle cx="588.70" cy="431.40" r="2.9" fill="#8a1c62"/>
<circle cx="591.30" cy="433.50" r="2.9" fill="#c81f48"/>
<circle cx="593.00" cy="435.30" r="2.9" fill="#4a43a3"/>
<circle cx="590.40" cy="436.20" r="2.9" fill="#e8232f"/>
<circle cx="599.20" cy="432.10" r="2.9" fill="#6c2a86"/>
<circle cx="599.50" cy="435.30" r="2.9" fill="#6c2a86"/>
<circle cx="605.80" cy="433.50" r="2.9" fill="#3a62ba"/>
<circle cx="612.00" cy="432.70" r="2.9" fill="#6c2a86"/>
<circle cx="614.90" cy="433.90" r="2.9" fill="#3a62ba"/>
<circle cx="619.70" cy="432.70" r="2.9" fill="#6c2a86"/>
<circle cx="638.60" cy="432.70" r="2.9" fill="#3a62ba"/>
<circle cx="579.00" cy="435.00" r="2.9" fill="#e8232f"/>
<circle cx="572.90" cy="437.90" r="2.9" fill="#e8232f"/>
<circle cx="605.30" cy="438.40" r="2.9" fill="#e8232f"/>
<text x="577.4" y="354.80" font-size="8.3" fill="#262626" textLength="32.6" lengthAdjust="spacingAndGlyphs" stroke="#262626" stroke-width="0.2"><tspan font-style="italic">R</tspan> = 0.84</text></svg></body></html>
